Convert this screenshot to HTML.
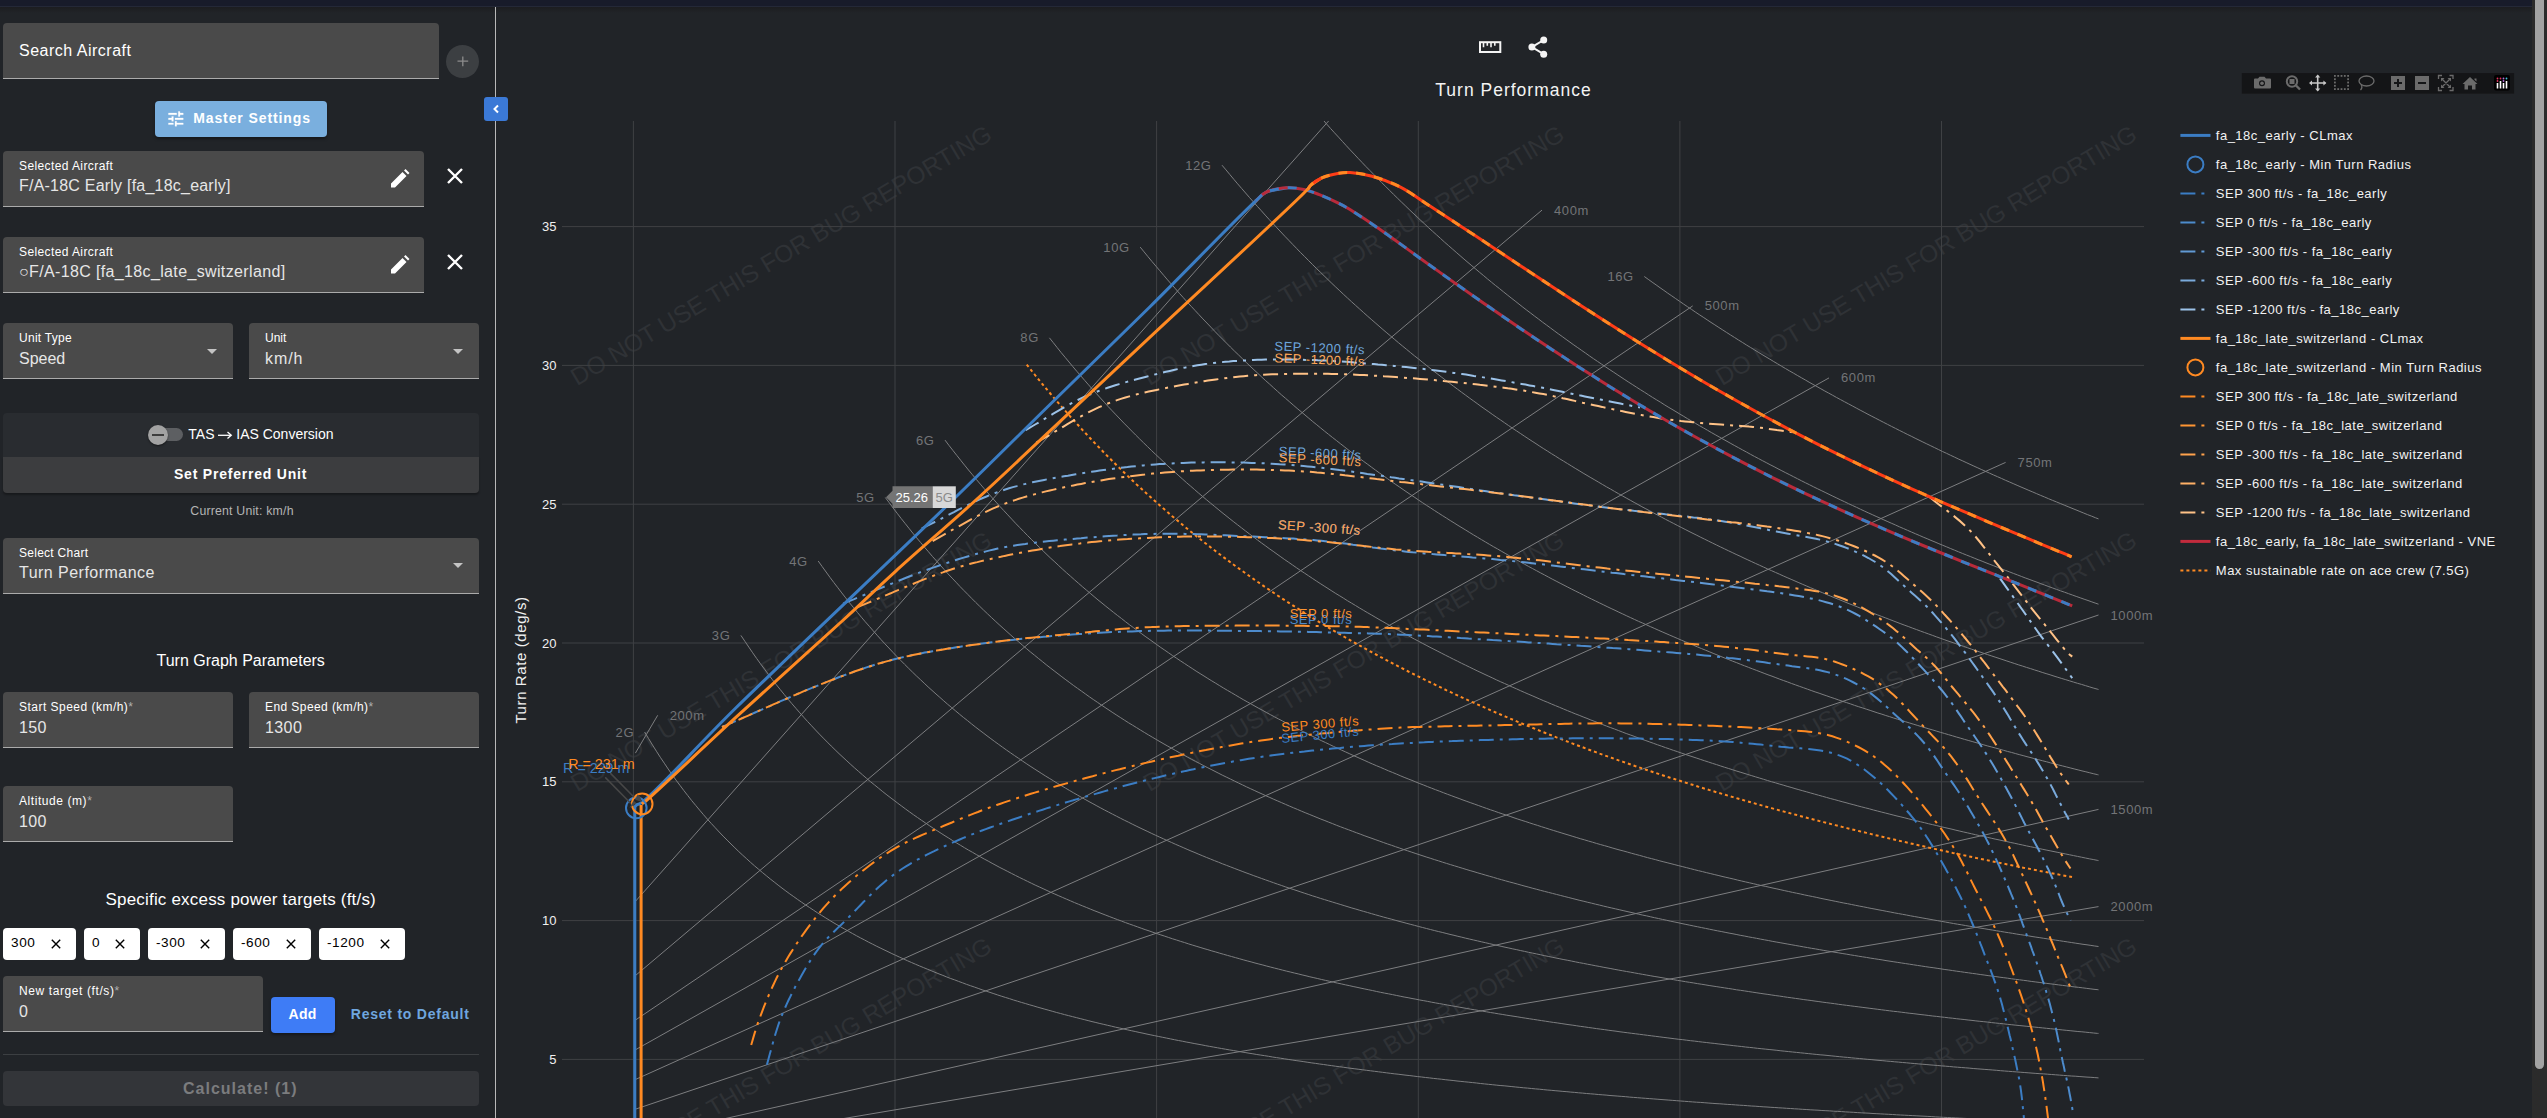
<!DOCTYPE html>
<html><head><meta charset="utf-8"><style>
html,body{margin:0;padding:0;}
body{width:2547px;height:1118px;overflow:hidden;background:#212428;position:relative;font-family:"Liberation Sans",sans-serif;color:#fff;}
.a{position:absolute;}
.fld{position:absolute;background:#4a4a4a;border-radius:4px 4px 0 0;border-bottom:1px solid #ababab;box-sizing:border-box;}
.lab{position:absolute;left:16px;font-size:12px;color:#fff;white-space:nowrap;}
.val{position:absolute;left:16px;font-size:16px;color:#e6e6e6;white-space:nowrap;}
.ast{color:#b0b0b0;}
.caret{position:absolute;width:0;height:0;border-left:5px solid transparent;border-right:5px solid transparent;border-top:5px solid #c4c4c4;}
.chip{position:absolute;top:928px;height:31.6px;background:#fff;border-radius:4px;color:#000;font-size:13.6px;letter-spacing:0.6px;}
.chip span{position:absolute;top:7px;left:8px;white-space:nowrap;}
.chip svg{position:absolute;top:9.5px;}
.xic{position:absolute;}
</style></head>
<body>
<div class="a" style="left:0;top:0;width:2532px;height:6px;background:#181b2a"></div>
<div class="a" style="left:0;top:5.5px;width:2532px;height:1.2px;background:#242837"></div>
<div class="a" style="left:0;top:6.7px;width:2532px;height:6px;background:linear-gradient(#1c1d20,#212428)"></div>
<div class="a" style="left:2532px;top:0;width:15px;height:1118px;background:#2b2b2b"></div>
<div class="a" style="left:2535px;top:0;width:9.2px;height:1069px;background:#a3a3a3;border-radius:0 0 5px 5px"></div>
<div class="a" style="left:494.5px;top:7px;width:1.2px;height:1111px;background:#b8b8b8"></div>
<div class="fld" style="left:3px;top:22.8px;width:436px;height:56px"><div class="val" style="left:16px;top:19.5px;font-size:16px;color:#fff;letter-spacing:0.5px">Search Aircraft</div></div>
<div class="a" style="left:445.7px;top:45px;width:33.2px;height:33.2px;border-radius:50%;background:#3c3f42"></div>
<svg class="a" style="left:456.5px;top:55.8px" width="13" height="13"><path d="M5.8,0.5V10.2M0.5,5.2H11.2" stroke="#8c8c8c" stroke-width="1.3"/></svg>
<div class="a" style="left:154.8px;top:101.2px;width:172px;height:35.6px;background:#7aafde;border-radius:4px;box-shadow:0 2px 3px rgba(0,0,0,0.35)"></div>
<svg class="a" style="left:166.2px;top:109.4px" width="20" height="20"><g transform="scale(0.82)"><path d="M3 17v2h6v-2H3zM3 5v2h10V5H3zm10 16v-2h8v-2h-8v-2h-2v6h2zM7 9v2H3v2h4v2h2V9H7zm14 4v-2H11v2h10zm-6-4h2V7h4V5h-4V3h-2v6z" fill="#fff" stroke="#fff" stroke-width="0.35"/></g></svg>
<div class="a" style="left:193.2px;top:110px;font-size:14px;font-weight:bold;letter-spacing:0.9px;color:#fff;white-space:nowrap">Master Settings</div>
<div class="a" style="left:484.3px;top:97.1px;width:23.6px;height:23.6px;background:#3b79d6;border-radius:3px"></div>
<svg class="a" style="left:490px;top:102px" width="12" height="14"><path d="M8,3.5L4.5,7L8,10.5" stroke="#fff" stroke-width="2" fill="none"/></svg>
<div class="fld" style="left:3px;top:151px;width:421px;height:56px"><div class="lab" style="top:8px;letter-spacing:0.4px">Selected Aircraft</div><div class="val" style="top:26px;font-size:16px;letter-spacing:0.22px">F/A-18C Early [fa_18c_early]</div></div>
<svg class="a" style="left:389px;top:168px" width="22" height="22"><path d="M2,19.5V15.5L13.5,4L17.5,8L6,19.5Z M15,2.5L16.5,1L20.5,5L19,6.5Z" fill="#fff"/></svg>
<svg class="a" style="left:446px;top:167px" width="18" height="18"><path d="M2,2L16,16M16,2L2,16" stroke="#fff" stroke-width="2.4"/></svg>
<div class="fld" style="left:3px;top:237px;width:421px;height:56px"><div class="lab" style="top:8px;letter-spacing:0.4px">Selected Aircraft</div><div class="val" style="top:26px;font-size:16px;letter-spacing:0.36px">&#9675;F/A-18C [fa_18c_late_switzerland]</div></div>
<svg class="a" style="left:389px;top:254px" width="22" height="22"><path d="M2,19.5V15.5L13.5,4L17.5,8L6,19.5Z M15,2.5L16.5,1L20.5,5L19,6.5Z" fill="#fff"/></svg>
<svg class="a" style="left:446px;top:253px" width="18" height="18"><path d="M2,2L16,16M16,2L2,16" stroke="#fff" stroke-width="2.4"/></svg>
<div class="fld" style="left:3px;top:323px;width:230px;height:55.5px"><div class="lab" style="top:8px;letter-spacing:0.27px">Unit Type</div><div class="val" style="top:26.5px">Speed</div><div class="caret" style="left:203.6px;top:25.7px"></div></div>
<div class="fld" style="left:249px;top:323px;width:230px;height:55.5px"><div class="lab" style="top:8px">Unit</div><div class="val" style="top:26.5px;letter-spacing:0.9px">km/h</div><div class="caret" style="left:203.8px;top:25.7px"></div></div>
<div class="a" style="left:3px;top:413px;width:476px;height:44px;background:#292c30;border-radius:4px 4px 0 0"></div>
<div class="a" style="left:148.8px;top:428.2px;width:34.4px;height:12.9px;border-radius:7px;background:#5d5f62"></div>
<div class="a" style="left:147.7px;top:424.5px;width:20px;height:20px;border-radius:50%;background:#a2a2a2;box-shadow:0 1px 2px rgba(0,0,0,0.5)"></div>
<div class="a" style="left:151.5px;top:433.6px;width:12.4px;height:2px;background:#3c3c3c"></div>
<div class="a" style="left:188.3px;top:426px;font-size:14px;color:#fff;white-space:nowrap">TAS <span style="color:transparent">&#8594;</span> IAS Conversion</div>
<svg class="a" style="left:217px;top:430px" width="16" height="10"><path d="M1,5.3H14" stroke="#fff" stroke-width="1.3"/><path d="M10.5,2L14.3,5.3L10.5,8.6" stroke="#fff" stroke-width="1.3" fill="none"/></svg>
<div class="a" style="left:3px;top:457px;width:476px;height:35.6px;background:#3c3d3f;border-radius:0 0 4px 4px;box-shadow:0 2px 2px rgba(0,0,0,0.3)"></div>
<div class="a" style="left:174px;top:466px;font-size:14px;font-weight:bold;letter-spacing:0.78px;color:#fff;white-space:nowrap">Set Preferred Unit</div>
<div class="a" style="left:190.3px;top:503.5px;font-size:12.3px;letter-spacing:0.2px;color:#b4b4b4;white-space:nowrap">Current Unit: km/h</div>
<div class="fld" style="left:3px;top:537.5px;width:476px;height:56px"><div class="lab" style="top:8px;letter-spacing:0.27px">Select Chart</div><div class="val" style="top:26.5px;letter-spacing:0.47px">Turn Performance</div><div class="caret" style="left:449.8px;top:25.8px"></div></div>
<div class="a" style="left:156.5px;top:652px;font-size:16px;color:#fff;white-space:nowrap">Turn Graph Parameters</div>
<div class="fld" style="left:3px;top:692.3px;width:230px;height:55.6px"><div class="lab" style="top:7.5px;letter-spacing:0.48px">Start Speed (km/h)<span class="ast">*</span></div><div class="val" style="top:26.5px;letter-spacing:0.4px">150</div></div>
<div class="fld" style="left:249px;top:692.3px;width:230px;height:55.6px"><div class="lab" style="top:7.5px;letter-spacing:0.42px">End Speed (km/h)<span class="ast">*</span></div><div class="val" style="top:26.5px;letter-spacing:0.4px">1300</div></div>
<div class="fld" style="left:3px;top:786px;width:230px;height:55.8px"><div class="lab" style="top:8px;letter-spacing:0.57px">Altitude (m)<span class="ast">*</span></div><div class="val" style="top:26.5px;letter-spacing:0.4px">100</div></div>
<div class="a" style="left:105.5px;top:889.5px;font-size:17px;letter-spacing:0.19px;color:#fff;white-space:nowrap">Specific excess power targets (ft/s)</div>
<div class="chip" style="left:3px;width:72.9px"><span>300</span><svg style="left:46.900000000000006px" width="12" height="12"><path d="M1.8,1.8L10.2,10.2M10.2,1.8L1.8,10.2" stroke="#000" stroke-width="1.4"/></svg></div>
<div class="chip" style="left:84px;width:55.9px"><span>0</span><svg style="left:29.9px" width="12" height="12"><path d="M1.8,1.8L10.2,10.2M10.2,1.8L1.8,10.2" stroke="#000" stroke-width="1.4"/></svg></div>
<div class="chip" style="left:147.9px;width:77.1px"><span>-300</span><svg style="left:51.099999999999994px" width="12" height="12"><path d="M1.8,1.8L10.2,10.2M10.2,1.8L1.8,10.2" stroke="#000" stroke-width="1.4"/></svg></div>
<div class="chip" style="left:232.9px;width:78px"><span>-600</span><svg style="left:52px" width="12" height="12"><path d="M1.8,1.8L10.2,10.2M10.2,1.8L1.8,10.2" stroke="#000" stroke-width="1.4"/></svg></div>
<div class="chip" style="left:318.9px;width:85.9px"><span>-1200</span><svg style="left:59.900000000000006px" width="12" height="12"><path d="M1.8,1.8L10.2,10.2M10.2,1.8L1.8,10.2" stroke="#000" stroke-width="1.4"/></svg></div>
<div class="fld" style="left:3px;top:976.1px;width:259.6px;height:56px"><div class="lab" style="top:8px;letter-spacing:0.6px">New target (ft/s)<span class="ast">*</span></div><div class="val" style="top:26.5px;letter-spacing:0.4px">0</div></div>
<div class="a" style="left:271.2px;top:997.1px;width:63.4px;height:35.5px;background:#3e7cf6;border-radius:4px;box-shadow:0 2px 3px rgba(0,0,0,0.35)"></div>
<div class="a" style="left:288.5px;top:1006px;font-size:14px;font-weight:bold;letter-spacing:0.3px;color:#fff;white-space:nowrap">Add</div>
<div class="a" style="left:350.8px;top:1006px;font-size:14px;font-weight:bold;letter-spacing:0.77px;color:#6fa6df;white-space:nowrap">Reset to Default</div>
<div class="a" style="left:3px;top:1054px;width:476px;height:1px;background:#3c3f42"></div>
<div class="a" style="left:3px;top:1071.2px;width:476px;height:35.3px;background:#333539;border-radius:4px"></div>
<div class="a" style="left:183px;top:1079.5px;font-size:16px;font-weight:bold;letter-spacing:1px;color:#7b7c7e;white-space:nowrap">Calculate! (1)</div>
<svg width="2532" height="1118" viewBox="0 0 2532 1118" style="position:absolute;left:0;top:0">
<defs><clipPath id="pc"><rect x="562" y="121" width="1582" height="1000"/></clipPath><clipPath id="pc2"><rect x="497" y="121" width="2030" height="1000"/></clipPath></defs>
<g font-family="Liberation Sans, sans-serif" font-size="24.5" fill="#2f3236"><text x="782" y="257" transform="rotate(-30.7 782 257)" text-anchor="middle" dominant-baseline="middle">DO NOT USE THIS FOR BUG REPORTING</text><text x="1354.5" y="257" transform="rotate(-30.7 1354.5 257)" text-anchor="middle" dominant-baseline="middle">DO NOT USE THIS FOR BUG REPORTING</text><text x="1927" y="257" transform="rotate(-30.7 1927 257)" text-anchor="middle" dominant-baseline="middle">DO NOT USE THIS FOR BUG REPORTING</text><text x="782" y="663" transform="rotate(-30.7 782 663)" text-anchor="middle" dominant-baseline="middle">DO NOT USE THIS FOR BUG REPORTING</text><text x="1354.5" y="663" transform="rotate(-30.7 1354.5 663)" text-anchor="middle" dominant-baseline="middle">DO NOT USE THIS FOR BUG REPORTING</text><text x="1927" y="663" transform="rotate(-30.7 1927 663)" text-anchor="middle" dominant-baseline="middle">DO NOT USE THIS FOR BUG REPORTING</text><text x="782" y="1069" transform="rotate(-30.7 782 1069)" text-anchor="middle" dominant-baseline="middle">DO NOT USE THIS FOR BUG REPORTING</text><text x="1354.5" y="1069" transform="rotate(-30.7 1354.5 1069)" text-anchor="middle" dominant-baseline="middle">DO NOT USE THIS FOR BUG REPORTING</text><text x="1927" y="1069" transform="rotate(-30.7 1927 1069)" text-anchor="middle" dominant-baseline="middle">DO NOT USE THIS FOR BUG REPORTING</text></g>
<path d="M633.4,121V1118 M895.0,121V1118 M1156.6,121V1118 M1418.3,121V1118 M1679.9,121V1118 M1941.5,121V1118 M562,1059.4H2144 M562,920.6H2144 M562,781.8H2144 M562,643.0H2144 M562,504.2H2144 M562,365.4H2144 M562,226.6H2144" stroke="#3f4144" stroke-width="1" fill="none"/>
<g font-family="Liberation Sans, sans-serif" font-size="13" fill="#f0f0f0"><text x="556.5" y="1064.0" text-anchor="end">5</text><text x="556.5" y="925.2" text-anchor="end">10</text><text x="556.5" y="786.4" text-anchor="end">15</text><text x="556.5" y="647.6" text-anchor="end">20</text><text x="556.5" y="508.8" text-anchor="end">25</text><text x="556.5" y="370.0" text-anchor="end">30</text><text x="556.5" y="231.2" text-anchor="end">35</text></g>
<text x="526" y="660" transform="rotate(-90 526 660)" text-anchor="middle" font-family="Liberation Sans, sans-serif" font-size="15" letter-spacing="0.6" fill="#f0f0f0">Turn Rate (deg/s)</text>
<g clip-path="url(#pc)"><path d="M644.6,732.0 L648.6,738.6 L652.5,745.0 L656.4,751.2 L660.3,757.3 L664.3,763.2 L668.2,769.0 L672.1,774.6 L676.0,780.1 L680.0,785.4 L683.9,790.6 L687.8,795.6 L691.7,800.6 L695.7,805.4 L699.6,810.1 L703.5,814.7 L707.4,819.2 L711.4,823.6 L715.3,827.8 L719.2,832.0 L723.1,836.1 L727.1,840.1 L731.0,844.0 L734.9,847.8 L738.8,851.6 L742.8,855.3 L746.7,858.8 L750.6,862.4 L754.5,865.8 L758.5,869.2 L762.4,872.5 L766.3,875.7 L770.2,878.9 L774.2,882.0 L778.1,885.1 L782.0,888.1 L785.9,891.0 L789.8,893.9 L793.8,896.7 L797.7,899.5 L801.6,902.2 L805.5,904.9 L809.5,907.5 L813.4,910.1 L817.3,912.7 L821.2,915.1 L825.2,917.6 L829.1,920.0 L833.0,922.4 L836.9,924.7 L840.9,927.0 L844.8,929.2 L848.7,931.4 L852.6,933.6 L856.6,935.8 L860.5,937.9 L864.4,939.9 L868.3,942.0 L872.3,944.0 L876.2,946.0 L880.1,947.9 L884.0,949.8 L888.0,951.7 L891.9,953.6 L895.8,955.4 L899.7,957.2 L903.7,959.0 L907.6,960.8 L911.5,962.5 L915.4,964.2 L919.4,965.9 L923.3,967.5 L927.2,969.1 L931.1,970.7 L935.0,972.3 L939.0,973.9 L942.9,975.4 L946.8,977.0 L950.7,978.5 L954.7,979.9 L958.6,981.4 L962.5,982.8 L966.4,984.3 L970.4,985.7 L974.3,987.0 L978.2,988.4 L982.1,989.8 L986.1,991.1 L990.0,992.4 L993.9,993.7 L997.8,995.0 L1001.8,996.3 L1005.7,997.5 L1009.6,998.7 L1013.5,1000.0 L1017.5,1001.2 L1021.4,1002.4 L1025.3,1003.5 L1029.2,1004.7 L1033.2,1005.8 L1037.1,1007.0 L1041.0,1008.1 L1044.9,1009.2 L1048.9,1010.3 L1052.8,1011.4 L1056.7,1012.5 L1060.6,1013.5 L1064.5,1014.6 L1068.5,1015.6 L1072.4,1016.6 L1076.3,1017.6 L1080.2,1018.6 L1084.2,1019.6 L1088.1,1020.6 L1092.0,1021.6 L1095.9,1022.5 L1099.9,1023.5 L1103.8,1024.4 L1107.7,1025.3 L1111.6,1026.2 L1115.6,1027.2 L1119.5,1028.0 L1123.4,1028.9 L1127.3,1029.8 L1131.3,1030.7 L1135.2,1031.5 L1139.1,1032.4 L1143.0,1033.2 L1147.0,1034.1 L1150.9,1034.9 L1154.8,1035.7 L1158.7,1036.5 L1162.7,1037.3 L1166.6,1038.1 L1170.5,1038.9 L1174.4,1039.7 L1178.4,1040.5 L1182.3,1041.2 L1186.2,1042.0 L1190.1,1042.7 L1194.1,1043.5 L1198.0,1044.2 L1201.9,1044.9 L1205.8,1045.7 L1209.7,1046.4 L1213.7,1047.1 L1217.6,1047.8 L1221.5,1048.5 L1225.4,1049.2 L1229.4,1049.9 L1233.3,1050.5 L1237.2,1051.2 L1241.1,1051.9 L1245.1,1052.5 L1249.0,1053.2 L1252.9,1053.8 L1256.8,1054.5 L1260.8,1055.1 L1264.7,1055.7 L1268.6,1056.3 L1272.5,1057.0 L1276.5,1057.6 L1280.4,1058.2 L1284.3,1058.8 L1288.2,1059.4 L1292.2,1060.0 L1296.1,1060.6 L1300.0,1061.1 L1303.9,1061.7 L1307.9,1062.3 L1311.8,1062.9 L1315.7,1063.4 L1319.6,1064.0 L1323.6,1064.5 L1327.5,1065.1 L1331.4,1065.6 L1335.3,1066.2 L1339.3,1066.7 L1343.2,1067.2 L1347.1,1067.8 L1351.0,1068.3 L1354.9,1068.8 L1358.9,1069.3 L1362.8,1069.8 L1366.7,1070.3 L1370.6,1070.8 L1374.6,1071.3 L1378.5,1071.8 L1382.4,1072.3 L1386.3,1072.8 L1390.3,1073.3 L1394.2,1073.8 L1398.1,1074.2 L1402.0,1074.7 L1406.0,1075.2 L1409.9,1075.6 L1413.8,1076.1 L1417.7,1076.6 L1421.7,1077.0 L1425.6,1077.5 L1429.5,1077.9 L1433.4,1078.4 L1437.4,1078.8 L1441.3,1079.2 L1445.2,1079.7 L1449.1,1080.1 L1453.1,1080.5 L1457.0,1081.0 L1460.9,1081.4 L1464.8,1081.8 L1468.8,1082.2 L1472.7,1082.6 L1476.6,1083.0 L1480.5,1083.5 L1484.4,1083.9 L1488.4,1084.3 L1492.3,1084.7 L1496.2,1085.1 L1500.1,1085.5 L1504.1,1085.8 L1508.0,1086.2 L1511.9,1086.6 L1515.8,1087.0 L1519.8,1087.4 L1523.7,1087.8 L1527.6,1088.1 L1531.5,1088.5 L1535.5,1088.9 L1539.4,1089.2 L1543.3,1089.6 L1547.2,1090.0 L1551.2,1090.3 L1555.1,1090.7 L1559.0,1091.0 L1562.9,1091.4 L1566.9,1091.7 L1570.8,1092.1 L1574.7,1092.4 L1578.6,1092.8 L1582.6,1093.1 L1586.5,1093.5 L1590.4,1093.8 L1594.3,1094.1 L1598.3,1094.5 L1602.2,1094.8 L1606.1,1095.1 L1610.0,1095.5 L1614.0,1095.8 L1617.9,1096.1 L1621.8,1096.4 L1625.7,1096.7 L1629.6,1097.1 L1633.6,1097.4 L1637.5,1097.7 L1641.4,1098.0 L1645.3,1098.3 L1649.3,1098.6 L1653.2,1098.9 L1657.1,1099.2 L1661.0,1099.5 L1665.0,1099.8 L1668.9,1100.1 L1672.8,1100.4 L1676.7,1100.7 L1680.7,1101.0 L1684.6,1101.3 L1688.5,1101.6 L1692.4,1101.9 L1696.4,1102.2 L1700.3,1102.4 L1704.2,1102.7 L1708.1,1103.0 L1712.1,1103.3 L1716.0,1103.6 L1719.9,1103.8 L1723.8,1104.1 L1727.8,1104.4 L1731.7,1104.6 L1735.6,1104.9 L1739.5,1105.2 L1743.5,1105.4 L1747.4,1105.7 L1751.3,1106.0 L1755.2,1106.2 L1759.2,1106.5 L1763.1,1106.8 L1767.0,1107.0 L1770.9,1107.3 L1774.8,1107.5 L1778.8,1107.8 L1782.7,1108.0 L1786.6,1108.3 L1790.5,1108.5 L1794.5,1108.8 L1798.4,1109.0 L1802.3,1109.3 L1806.2,1109.5 L1810.2,1109.8 L1814.1,1110.0 L1818.0,1110.2 L1821.9,1110.5 L1825.9,1110.7 L1829.8,1110.9 L1833.7,1111.2 L1837.6,1111.4 L1841.6,1111.6 L1845.5,1111.9 L1849.4,1112.1 L1853.3,1112.3 L1857.3,1112.6 L1861.2,1112.8 L1865.1,1113.0 L1869.0,1113.2 L1873.0,1113.5 L1876.9,1113.7 L1880.8,1113.9 L1884.7,1114.1 L1888.7,1114.3 L1892.6,1114.5 L1896.5,1114.8 L1900.4,1115.0 L1904.3,1115.2 L1908.3,1115.4 L1912.2,1115.6 L1916.1,1115.8 L1920.0,1116.0 L1924.0,1116.2 L1927.9,1116.4 L1931.8,1116.6 L1935.7,1116.9 L1939.7,1117.1 L1943.6,1117.3 L1947.5,1117.5 L1951.4,1117.7 L1955.4,1117.9 L1959.3,1118.1 L1963.2,1118.3 L1967.1,1118.5 L1971.1,1118.6 L1975.0,1118.8 L1978.9,1119.0 L1982.8,1119.2 L1986.8,1119.4 L1990.7,1119.6 L1994.6,1119.8 L1998.5,1120.0 L2002.5,1120.2 L2006.4,1120.4 L2010.3,1120.6 L2014.2,1120.7 L2018.2,1120.9 L2022.1,1121.1 L2026.0,1121.3 L2029.9,1121.5 L2033.9,1121.7 L2037.8,1121.8 L2041.7,1122.0 L2045.6,1122.2 L2049.5,1122.4 L2053.5,1122.5 L2057.4,1122.7 L2061.3,1122.9 L2065.2,1123.1 L2069.2,1123.2 L2073.1,1123.4 L2077.0,1123.6 L2080.9,1123.8 L2084.9,1123.9 L2088.8,1124.1 L2092.7,1124.3 L2096.6,1124.4 L2098.5,1124.5 M740.9,635.4 L744.9,641.3 L748.8,647.1 L752.7,652.8 L756.6,658.4 L760.5,663.8 L764.5,669.1 L768.4,674.4 L772.3,679.5 L776.2,684.5 L780.2,689.5 L784.1,694.3 L788.0,699.1 L791.9,703.7 L795.9,708.3 L799.8,712.8 L803.7,717.2 L807.6,721.5 L811.6,725.8 L815.5,730.0 L819.4,734.1 L823.3,738.1 L827.3,742.1 L831.2,746.0 L835.1,749.8 L839.0,753.6 L843.0,757.3 L846.9,760.9 L850.8,764.5 L854.7,768.0 L858.7,771.5 L862.6,774.9 L866.5,778.3 L870.4,781.6 L874.4,784.8 L878.3,788.0 L882.2,791.2 L886.1,794.3 L890.0,797.3 L894.0,800.3 L897.9,803.3 L901.8,806.2 L905.7,809.1 L909.7,812.0 L913.6,814.8 L917.5,817.5 L921.4,820.2 L925.4,822.9 L929.3,825.6 L933.2,828.2 L937.1,830.7 L941.1,833.3 L945.0,835.8 L948.9,838.2 L952.8,840.7 L956.8,843.1 L960.7,845.4 L964.6,847.8 L968.5,850.1 L972.5,852.3 L976.4,854.6 L980.3,856.8 L984.2,859.0 L988.2,861.1 L992.1,863.3 L996.0,865.4 L999.9,867.5 L1003.9,869.5 L1007.8,871.5 L1011.7,873.5 L1015.6,875.5 L1019.6,877.5 L1023.5,879.4 L1027.4,881.3 L1031.3,883.2 L1035.2,885.1 L1039.2,886.9 L1043.1,888.7 L1047.0,890.5 L1050.9,892.3 L1054.9,894.1 L1058.8,895.8 L1062.7,897.5 L1066.6,899.2 L1070.6,900.9 L1074.5,902.6 L1078.4,904.2 L1082.3,905.8 L1086.3,907.4 L1090.2,909.0 L1094.1,910.6 L1098.0,912.1 L1102.0,913.7 L1105.9,915.2 L1109.8,916.7 L1113.7,918.2 L1117.7,919.7 L1121.6,921.1 L1125.5,922.6 L1129.4,924.0 L1133.4,925.4 L1137.3,926.8 L1141.2,928.2 L1145.1,929.6 L1149.1,930.9 L1153.0,932.3 L1156.9,933.6 L1160.8,934.9 L1164.8,936.2 L1168.7,937.5 L1172.6,938.8 L1176.5,940.0 L1180.4,941.3 L1184.4,942.5 L1188.3,943.8 L1192.2,945.0 L1196.1,946.2 L1200.1,947.4 L1204.0,948.6 L1207.9,949.7 L1211.8,950.9 L1215.8,952.0 L1219.7,953.2 L1223.6,954.3 L1227.5,955.4 L1231.5,956.5 L1235.4,957.6 L1239.3,958.7 L1243.2,959.8 L1247.2,960.9 L1251.1,961.9 L1255.0,963.0 L1258.9,964.0 L1262.9,965.0 L1266.8,966.1 L1270.7,967.1 L1274.6,968.1 L1278.6,969.1 L1282.5,970.1 L1286.4,971.1 L1290.3,972.0 L1294.3,973.0 L1298.2,973.9 L1302.1,974.9 L1306.0,975.8 L1309.9,976.8 L1313.9,977.7 L1317.8,978.6 L1321.7,979.5 L1325.6,980.4 L1329.6,981.3 L1333.5,982.2 L1337.4,983.1 L1341.3,983.9 L1345.3,984.8 L1349.2,985.6 L1353.1,986.5 L1357.0,987.3 L1361.0,988.2 L1364.9,989.0 L1368.8,989.8 L1372.7,990.6 L1376.7,991.5 L1380.6,992.3 L1384.5,993.1 L1388.4,993.8 L1392.4,994.6 L1396.3,995.4 L1400.2,996.2 L1404.1,997.0 L1408.1,997.7 L1412.0,998.5 L1415.9,999.2 L1419.8,1000.0 L1423.8,1000.7 L1427.7,1001.4 L1431.6,1002.2 L1435.5,1002.9 L1439.5,1003.6 L1443.4,1004.3 L1447.3,1005.0 L1451.2,1005.7 L1455.1,1006.4 L1459.1,1007.1 L1463.0,1007.8 L1466.9,1008.5 L1470.8,1009.2 L1474.8,1009.8 L1478.7,1010.5 L1482.6,1011.2 L1486.5,1011.8 L1490.5,1012.5 L1494.4,1013.1 L1498.3,1013.8 L1502.2,1014.4 L1506.2,1015.1 L1510.1,1015.7 L1514.0,1016.3 L1517.9,1016.9 L1521.9,1017.6 L1525.8,1018.2 L1529.7,1018.8 L1533.6,1019.4 L1537.6,1020.0 L1541.5,1020.6 L1545.4,1021.2 L1549.3,1021.8 L1553.3,1022.4 L1557.2,1022.9 L1561.1,1023.5 L1565.0,1024.1 L1569.0,1024.7 L1572.9,1025.2 L1576.8,1025.8 L1580.7,1026.4 L1584.7,1026.9 L1588.6,1027.5 L1592.5,1028.0 L1596.4,1028.6 L1600.3,1029.1 L1604.3,1029.6 L1608.2,1030.2 L1612.1,1030.7 L1616.0,1031.2 L1620.0,1031.8 L1623.9,1032.3 L1627.8,1032.8 L1631.7,1033.3 L1635.7,1033.8 L1639.6,1034.3 L1643.5,1034.8 L1647.4,1035.3 L1651.4,1035.8 L1655.3,1036.3 L1659.2,1036.8 L1663.1,1037.3 L1667.1,1037.8 L1671.0,1038.3 L1674.9,1038.8 L1678.8,1039.3 L1682.8,1039.7 L1686.7,1040.2 L1690.6,1040.7 L1694.5,1041.1 L1698.5,1041.6 L1702.4,1042.1 L1706.3,1042.5 L1710.2,1043.0 L1714.2,1043.4 L1718.1,1043.9 L1722.0,1044.3 L1725.9,1044.8 L1729.8,1045.2 L1733.8,1045.7 L1737.7,1046.1 L1741.6,1046.5 L1745.5,1047.0 L1749.5,1047.4 L1753.4,1047.8 L1757.3,1048.3 L1761.2,1048.7 L1765.2,1049.1 L1769.1,1049.5 L1773.0,1049.9 L1776.9,1050.3 L1780.9,1050.8 L1784.8,1051.2 L1788.7,1051.6 L1792.6,1052.0 L1796.6,1052.4 L1800.5,1052.8 L1804.4,1053.2 L1808.3,1053.6 L1812.3,1054.0 L1816.2,1054.4 L1820.1,1054.8 L1824.0,1055.1 L1828.0,1055.5 L1831.9,1055.9 L1835.8,1056.3 L1839.7,1056.7 L1843.7,1057.1 L1847.6,1057.4 L1851.5,1057.8 L1855.4,1058.2 L1859.4,1058.5 L1863.3,1058.9 L1867.2,1059.3 L1871.1,1059.6 L1875.0,1060.0 L1879.0,1060.4 L1882.9,1060.7 L1886.8,1061.1 L1890.7,1061.4 L1894.7,1061.8 L1898.6,1062.1 L1902.5,1062.5 L1906.4,1062.8 L1910.4,1063.2 L1914.3,1063.5 L1918.2,1063.9 L1922.1,1064.2 L1926.1,1064.5 L1930.0,1064.9 L1933.9,1065.2 L1937.8,1065.5 L1941.8,1065.9 L1945.7,1066.2 L1949.6,1066.5 L1953.5,1066.9 L1957.5,1067.2 L1961.4,1067.5 L1965.3,1067.8 L1969.2,1068.1 L1973.2,1068.5 L1977.1,1068.8 L1981.0,1069.1 L1984.9,1069.4 L1988.9,1069.7 L1992.8,1070.0 L1996.7,1070.3 L2000.6,1070.7 L2004.6,1071.0 L2008.5,1071.3 L2012.4,1071.6 L2016.3,1071.9 L2020.2,1072.2 L2024.2,1072.5 L2028.1,1072.8 L2032.0,1073.1 L2035.9,1073.4 L2039.9,1073.7 L2043.8,1073.9 L2047.7,1074.2 L2051.6,1074.5 L2055.6,1074.8 L2059.5,1075.1 L2063.4,1075.4 L2067.3,1075.7 L2071.3,1076.0 L2075.2,1076.2 L2079.1,1076.5 L2083.0,1076.8 L2087.0,1077.1 L2090.9,1077.3 L2094.8,1077.6 L2098.5,1077.9 M818.2,561.0 L822.2,566.6 L826.1,572.0 L830.0,577.4 L833.9,582.6 L837.9,587.8 L841.8,592.9 L845.7,597.9 L849.6,602.9 L853.6,607.7 L857.5,612.5 L861.4,617.2 L865.3,621.8 L869.3,626.3 L873.2,630.8 L877.1,635.2 L881.0,639.6 L884.9,643.8 L888.9,648.0 L892.8,652.2 L896.7,656.3 L900.6,660.3 L904.6,664.3 L908.5,668.2 L912.4,672.0 L916.3,675.8 L920.3,679.5 L924.2,683.2 L928.1,686.9 L932.0,690.4 L936.0,694.0 L939.9,697.4 L943.8,700.9 L947.7,704.3 L951.7,707.6 L955.6,710.9 L959.5,714.2 L963.4,717.4 L967.4,720.5 L971.3,723.7 L975.2,726.8 L979.1,729.8 L983.1,732.8 L987.0,735.8 L990.9,738.7 L994.8,741.6 L998.8,744.5 L1002.7,747.3 L1006.6,750.1 L1010.5,752.8 L1014.4,755.5 L1018.4,758.2 L1022.3,760.9 L1026.2,763.5 L1030.1,766.1 L1034.1,768.7 L1038.0,771.2 L1041.9,773.7 L1045.8,776.2 L1049.8,778.6 L1053.7,781.0 L1057.6,783.4 L1061.5,785.8 L1065.5,788.1 L1069.4,790.4 L1073.3,792.7 L1077.2,794.9 L1081.2,797.2 L1085.1,799.4 L1089.0,801.6 L1092.9,803.7 L1096.9,805.9 L1100.8,808.0 L1104.7,810.1 L1108.6,812.1 L1112.6,814.2 L1116.5,816.2 L1120.4,818.2 L1124.3,820.2 L1128.3,822.1 L1132.2,824.1 L1136.1,826.0 L1140.0,827.9 L1144.0,829.8 L1147.9,831.6 L1151.8,833.5 L1155.7,835.3 L1159.6,837.1 L1163.6,838.9 L1167.5,840.7 L1171.4,842.4 L1175.3,844.2 L1179.3,845.9 L1183.2,847.6 L1187.1,849.3 L1191.0,851.0 L1195.0,852.6 L1198.9,854.3 L1202.8,855.9 L1206.7,857.5 L1210.7,859.1 L1214.6,860.7 L1218.5,862.2 L1222.4,863.8 L1226.4,865.3 L1230.3,866.8 L1234.2,868.3 L1238.1,869.8 L1242.1,871.3 L1246.0,872.8 L1249.9,874.2 L1253.8,875.7 L1257.8,877.1 L1261.7,878.5 L1265.6,879.9 L1269.5,881.3 L1273.5,882.7 L1277.4,884.1 L1281.3,885.4 L1285.2,886.8 L1289.2,888.1 L1293.1,889.4 L1297.0,890.7 L1300.9,892.0 L1304.8,893.3 L1308.8,894.6 L1312.7,895.9 L1316.6,897.1 L1320.5,898.4 L1324.5,899.6 L1328.4,900.8 L1332.3,902.0 L1336.2,903.2 L1340.2,904.4 L1344.1,905.6 L1348.0,906.8 L1351.9,908.0 L1355.9,909.1 L1359.8,910.3 L1363.7,911.4 L1367.6,912.5 L1371.6,913.7 L1375.5,914.8 L1379.4,915.9 L1383.3,917.0 L1387.3,918.1 L1391.2,919.1 L1395.1,920.2 L1399.0,921.3 L1403.0,922.3 L1406.9,923.4 L1410.8,924.4 L1414.7,925.4 L1418.7,926.5 L1422.6,927.5 L1426.5,928.5 L1430.4,929.5 L1434.3,930.5 L1438.3,931.5 L1442.2,932.4 L1446.1,933.4 L1450.0,934.4 L1454.0,935.3 L1457.9,936.3 L1461.8,937.2 L1465.7,938.2 L1469.7,939.1 L1473.6,940.0 L1477.5,940.9 L1481.4,941.8 L1485.4,942.7 L1489.3,943.6 L1493.2,944.5 L1497.1,945.4 L1501.1,946.3 L1505.0,947.2 L1508.9,948.0 L1512.8,948.9 L1516.8,949.7 L1520.7,950.6 L1524.6,951.4 L1528.5,952.3 L1532.5,953.1 L1536.4,953.9 L1540.3,954.7 L1544.2,955.6 L1548.2,956.4 L1552.1,957.2 L1556.0,958.0 L1559.9,958.8 L1563.9,959.6 L1567.8,960.3 L1571.7,961.1 L1575.6,961.9 L1579.5,962.7 L1583.5,963.4 L1587.4,964.2 L1591.3,964.9 L1595.2,965.7 L1599.2,966.4 L1603.1,967.2 L1607.0,967.9 L1610.9,968.6 L1614.9,969.4 L1618.8,970.1 L1622.7,970.8 L1626.6,971.5 L1630.6,972.2 L1634.5,972.9 L1638.4,973.6 L1642.3,974.3 L1646.3,975.0 L1650.2,975.7 L1654.1,976.4 L1658.0,977.0 L1662.0,977.7 L1665.9,978.4 L1669.8,979.0 L1673.7,979.7 L1677.7,980.4 L1681.6,981.0 L1685.5,981.7 L1689.4,982.3 L1693.4,982.9 L1697.3,983.6 L1701.2,984.2 L1705.1,984.8 L1709.1,985.5 L1713.0,986.1 L1716.9,986.7 L1720.8,987.3 L1724.7,987.9 L1728.7,988.5 L1732.6,989.1 L1736.5,989.8 L1740.4,990.3 L1744.4,990.9 L1748.3,991.5 L1752.2,992.1 L1756.1,992.7 L1760.1,993.3 L1764.0,993.9 L1767.9,994.4 L1771.8,995.0 L1775.8,995.6 L1779.7,996.1 L1783.6,996.7 L1787.5,997.3 L1791.5,997.8 L1795.4,998.4 L1799.3,998.9 L1803.2,999.5 L1807.2,1000.0 L1811.1,1000.5 L1815.0,1001.1 L1818.9,1001.6 L1822.9,1002.2 L1826.8,1002.7 L1830.7,1003.2 L1834.6,1003.7 L1838.6,1004.3 L1842.5,1004.8 L1846.4,1005.3 L1850.3,1005.8 L1854.2,1006.3 L1858.2,1006.8 L1862.1,1007.3 L1866.0,1007.8 L1869.9,1008.3 L1873.9,1008.8 L1877.8,1009.3 L1881.7,1009.8 L1885.6,1010.3 L1889.6,1010.8 L1893.5,1011.3 L1897.4,1011.7 L1901.3,1012.2 L1905.3,1012.7 L1909.2,1013.2 L1913.1,1013.6 L1917.0,1014.1 L1921.0,1014.6 L1924.9,1015.0 L1928.8,1015.5 L1932.7,1016.0 L1936.7,1016.4 L1940.6,1016.9 L1944.5,1017.3 L1948.4,1017.8 L1952.4,1018.2 L1956.3,1018.7 L1960.2,1019.1 L1964.1,1019.5 L1968.1,1020.0 L1972.0,1020.4 L1975.9,1020.9 L1979.8,1021.3 L1983.8,1021.7 L1987.7,1022.1 L1991.6,1022.6 L1995.5,1023.0 L1999.4,1023.4 L2003.4,1023.8 L2007.3,1024.3 L2011.2,1024.7 L2015.1,1025.1 L2019.1,1025.5 L2023.0,1025.9 L2026.9,1026.3 L2030.8,1026.7 L2034.8,1027.1 L2038.7,1027.5 L2042.6,1027.9 L2046.5,1028.3 L2050.5,1028.7 L2054.4,1029.1 L2058.3,1029.5 L2062.2,1029.9 L2066.2,1030.3 L2070.1,1030.7 L2074.0,1031.1 L2077.9,1031.5 L2081.9,1031.8 L2085.8,1032.2 L2089.7,1032.6 L2093.6,1033.0 L2097.6,1033.4 L2098.5,1033.4 M885.3,497.5 L889.3,502.8 L893.2,508.1 L897.1,513.2 L901.0,518.3 L905.0,523.3 L908.9,528.2 L912.8,533.1 L916.7,537.9 L920.7,542.6 L924.6,547.3 L928.5,551.8 L932.4,556.4 L936.4,560.8 L940.3,565.2 L944.2,569.6 L948.1,573.9 L952.1,578.1 L956.0,582.2 L959.9,586.4 L963.8,590.4 L967.8,594.4 L971.7,598.4 L975.6,602.3 L979.5,606.1 L983.4,609.9 L987.4,613.7 L991.3,617.4 L995.2,621.0 L999.1,624.6 L1003.1,628.2 L1007.0,631.7 L1010.9,635.2 L1014.8,638.6 L1018.8,642.0 L1022.7,645.4 L1026.6,648.7 L1030.5,652.0 L1034.5,655.2 L1038.4,658.4 L1042.3,661.5 L1046.2,664.7 L1050.2,667.8 L1054.1,670.8 L1058.0,673.8 L1061.9,676.8 L1065.9,679.8 L1069.8,682.7 L1073.7,685.6 L1077.6,688.4 L1081.6,691.2 L1085.5,694.0 L1089.4,696.8 L1093.3,699.5 L1097.3,702.2 L1101.2,704.9 L1105.1,707.5 L1109.0,710.1 L1112.9,712.7 L1116.9,715.3 L1120.8,717.8 L1124.7,720.3 L1128.6,722.8 L1132.6,725.2 L1136.5,727.6 L1140.4,730.0 L1144.3,732.4 L1148.3,734.8 L1152.2,737.1 L1156.1,739.4 L1160.0,741.7 L1164.0,744.0 L1167.9,746.2 L1171.8,748.4 L1175.7,750.6 L1179.7,752.8 L1183.6,754.9 L1187.5,757.1 L1191.4,759.2 L1195.4,761.3 L1199.3,763.3 L1203.2,765.4 L1207.1,767.4 L1211.1,769.4 L1215.0,771.4 L1218.9,773.4 L1222.8,775.4 L1226.8,777.3 L1230.7,779.2 L1234.6,781.1 L1238.5,783.0 L1242.5,784.9 L1246.4,786.8 L1250.3,788.6 L1254.2,790.4 L1258.1,792.2 L1262.1,794.0 L1266.0,795.8 L1269.9,797.5 L1273.8,799.3 L1277.8,801.0 L1281.7,802.7 L1285.6,804.4 L1289.5,806.1 L1293.5,807.8 L1297.4,809.4 L1301.3,811.1 L1305.2,812.7 L1309.2,814.3 L1313.1,815.9 L1317.0,817.5 L1320.9,819.1 L1324.9,820.6 L1328.8,822.2 L1332.7,823.7 L1336.6,825.3 L1340.6,826.8 L1344.5,828.3 L1348.4,829.7 L1352.3,831.2 L1356.3,832.7 L1360.2,834.1 L1364.1,835.6 L1368.0,837.0 L1372.0,838.4 L1375.9,839.8 L1379.8,841.2 L1383.7,842.6 L1387.7,844.0 L1391.6,845.3 L1395.5,846.7 L1399.4,848.0 L1403.3,849.4 L1407.3,850.7 L1411.2,852.0 L1415.1,853.3 L1419.0,854.6 L1423.0,855.9 L1426.9,857.2 L1430.8,858.4 L1434.7,859.7 L1438.7,860.9 L1442.6,862.2 L1446.5,863.4 L1450.4,864.6 L1454.4,865.8 L1458.3,867.0 L1462.2,868.2 L1466.1,869.4 L1470.1,870.6 L1474.0,871.7 L1477.9,872.9 L1481.8,874.0 L1485.8,875.2 L1489.7,876.3 L1493.6,877.4 L1497.5,878.6 L1501.5,879.7 L1505.4,880.8 L1509.3,881.9 L1513.2,882.9 L1517.2,884.0 L1521.1,885.1 L1525.0,886.2 L1528.9,887.2 L1532.8,888.3 L1536.8,889.3 L1540.7,890.4 L1544.6,891.4 L1548.5,892.4 L1552.5,893.4 L1556.4,894.4 L1560.3,895.4 L1564.2,896.4 L1568.2,897.4 L1572.1,898.4 L1576.0,899.4 L1579.9,900.4 L1583.9,901.3 L1587.8,902.3 L1591.7,903.2 L1595.6,904.2 L1599.6,905.1 L1603.5,906.1 L1607.4,907.0 L1611.3,907.9 L1615.3,908.8 L1619.2,909.7 L1623.1,910.6 L1627.0,911.5 L1631.0,912.4 L1634.9,913.3 L1638.8,914.2 L1642.7,915.1 L1646.7,915.9 L1650.6,916.8 L1654.5,917.7 L1658.4,918.5 L1662.4,919.4 L1666.3,920.2 L1670.2,921.1 L1674.1,921.9 L1678.0,922.7 L1682.0,923.6 L1685.9,924.4 L1689.8,925.2 L1693.7,926.0 L1697.7,926.8 L1701.6,927.6 L1705.5,928.4 L1709.4,929.2 L1713.4,930.0 L1717.3,930.8 L1721.2,931.5 L1725.1,932.3 L1729.1,933.1 L1733.0,933.8 L1736.9,934.6 L1740.8,935.4 L1744.8,936.1 L1748.7,936.9 L1752.6,937.6 L1756.5,938.3 L1760.5,939.1 L1764.4,939.8 L1768.3,940.5 L1772.2,941.3 L1776.2,942.0 L1780.1,942.7 L1784.0,943.4 L1787.9,944.1 L1791.9,944.8 L1795.8,945.5 L1799.7,946.2 L1803.6,946.9 L1807.6,947.6 L1811.5,948.3 L1815.4,948.9 L1819.3,949.6 L1823.2,950.3 L1827.2,951.0 L1831.1,951.6 L1835.0,952.3 L1838.9,952.9 L1842.9,953.6 L1846.8,954.2 L1850.7,954.9 L1854.6,955.5 L1858.6,956.2 L1862.5,956.8 L1866.4,957.4 L1870.3,958.1 L1874.3,958.7 L1878.2,959.3 L1882.1,959.9 L1886.0,960.6 L1890.0,961.2 L1893.9,961.8 L1897.8,962.4 L1901.7,963.0 L1905.7,963.6 L1909.6,964.2 L1913.5,964.8 L1917.4,965.4 L1921.4,966.0 L1925.3,966.6 L1929.2,967.2 L1933.1,967.7 L1937.1,968.3 L1941.0,968.9 L1944.9,969.5 L1948.8,970.0 L1952.7,970.6 L1956.7,971.2 L1960.6,971.7 L1964.5,972.3 L1968.4,972.8 L1972.4,973.4 L1976.3,973.9 L1980.2,974.5 L1984.1,975.0 L1988.1,975.6 L1992.0,976.1 L1995.9,976.6 L1999.8,977.2 L2003.8,977.7 L2007.7,978.2 L2011.6,978.8 L2015.5,979.3 L2019.5,979.8 L2023.4,980.3 L2027.3,980.8 L2031.2,981.4 L2035.2,981.9 L2039.1,982.4 L2043.0,982.9 L2046.9,983.4 L2050.9,983.9 L2054.8,984.4 L2058.7,984.9 L2062.6,985.4 L2066.6,985.9 L2070.5,986.4 L2074.4,986.9 L2078.3,987.3 L2082.3,987.8 L2086.2,988.3 L2090.1,988.8 L2094.0,989.3 L2097.9,989.7 L2098.5,989.8 M945.0,440.1 L948.9,445.3 L952.8,450.3 L956.8,455.4 L960.7,460.3 L964.6,465.2 L968.5,470.0 L972.5,474.8 L976.4,479.5 L980.3,484.1 L984.2,488.7 L988.2,493.2 L992.1,497.7 L996.0,502.1 L999.9,506.4 L1003.9,510.7 L1007.8,514.9 L1011.7,519.1 L1015.6,523.3 L1019.6,527.4 L1023.5,531.4 L1027.4,535.4 L1031.3,539.3 L1035.2,543.2 L1039.2,547.1 L1043.1,550.9 L1047.0,554.7 L1050.9,558.4 L1054.9,562.0 L1058.8,565.7 L1062.7,569.3 L1066.6,572.8 L1070.6,576.3 L1074.5,579.8 L1078.4,583.2 L1082.3,586.6 L1086.3,590.0 L1090.2,593.3 L1094.1,596.6 L1098.0,599.9 L1102.0,603.1 L1105.9,606.3 L1109.8,609.4 L1113.7,612.5 L1117.7,615.6 L1121.6,618.6 L1125.5,621.7 L1129.4,624.7 L1133.4,627.6 L1137.3,630.5 L1141.2,633.4 L1145.1,636.3 L1149.1,639.1 L1153.0,641.9 L1156.9,644.7 L1160.8,647.5 L1164.8,650.2 L1168.7,652.9 L1172.6,655.6 L1176.5,658.2 L1180.4,660.8 L1184.4,663.4 L1188.3,666.0 L1192.2,668.5 L1196.1,671.1 L1200.1,673.6 L1204.0,676.0 L1207.9,678.5 L1211.8,680.9 L1215.8,683.3 L1219.7,685.7 L1223.6,688.1 L1227.5,690.4 L1231.5,692.7 L1235.4,695.0 L1239.3,697.3 L1243.2,699.6 L1247.2,701.8 L1251.1,704.0 L1255.0,706.2 L1258.9,708.4 L1262.9,710.5 L1266.8,712.7 L1270.7,714.8 L1274.6,716.9 L1278.6,719.0 L1282.5,721.0 L1286.4,723.1 L1290.3,725.1 L1294.3,727.1 L1298.2,729.1 L1302.1,731.1 L1306.0,733.1 L1309.9,735.0 L1313.9,736.9 L1317.8,738.9 L1321.7,740.8 L1325.6,742.6 L1329.6,744.5 L1333.5,746.4 L1337.4,748.2 L1341.3,750.0 L1345.3,751.8 L1349.2,753.6 L1353.1,755.4 L1357.0,757.1 L1361.0,758.9 L1364.9,760.6 L1368.8,762.4 L1372.7,764.1 L1376.7,765.8 L1380.6,767.4 L1384.5,769.1 L1388.4,770.8 L1392.4,772.4 L1396.3,774.0 L1400.2,775.7 L1404.1,777.3 L1408.1,778.9 L1412.0,780.4 L1415.9,782.0 L1419.8,783.6 L1423.8,785.1 L1427.7,786.7 L1431.6,788.2 L1435.5,789.7 L1439.5,791.2 L1443.4,792.7 L1447.3,794.2 L1451.2,795.6 L1455.1,797.1 L1459.1,798.5 L1463.0,800.0 L1466.9,801.4 L1470.8,802.8 L1474.8,804.2 L1478.7,805.6 L1482.6,807.0 L1486.5,808.4 L1490.5,809.8 L1494.4,811.1 L1498.3,812.5 L1502.2,813.8 L1506.2,815.1 L1510.1,816.4 L1514.0,817.8 L1517.9,819.1 L1521.9,820.4 L1525.8,821.6 L1529.7,822.9 L1533.6,824.2 L1537.6,825.4 L1541.5,826.7 L1545.4,827.9 L1549.3,829.2 L1553.3,830.4 L1557.2,831.6 L1561.1,832.8 L1565.0,834.0 L1569.0,835.2 L1572.9,836.4 L1576.8,837.6 L1580.7,838.8 L1584.7,839.9 L1588.6,841.1 L1592.5,842.2 L1596.4,843.4 L1600.3,844.5 L1604.3,845.6 L1608.2,846.7 L1612.1,847.9 L1616.0,849.0 L1620.0,850.1 L1623.9,851.1 L1627.8,852.2 L1631.7,853.3 L1635.7,854.4 L1639.6,855.4 L1643.5,856.5 L1647.4,857.6 L1651.4,858.6 L1655.3,859.6 L1659.2,860.7 L1663.1,861.7 L1667.1,862.7 L1671.0,863.7 L1674.9,864.7 L1678.8,865.7 L1682.8,866.7 L1686.7,867.7 L1690.6,868.7 L1694.5,869.7 L1698.5,870.7 L1702.4,871.6 L1706.3,872.6 L1710.2,873.5 L1714.2,874.5 L1718.1,875.4 L1722.0,876.4 L1725.9,877.3 L1729.8,878.2 L1733.8,879.1 L1737.7,880.1 L1741.6,881.0 L1745.5,881.9 L1749.5,882.8 L1753.4,883.7 L1757.3,884.6 L1761.2,885.5 L1765.2,886.3 L1769.1,887.2 L1773.0,888.1 L1776.9,888.9 L1780.9,889.8 L1784.8,890.7 L1788.7,891.5 L1792.6,892.4 L1796.6,893.2 L1800.5,894.0 L1804.4,894.9 L1808.3,895.7 L1812.3,896.5 L1816.2,897.3 L1820.1,898.2 L1824.0,899.0 L1828.0,899.8 L1831.9,900.6 L1835.8,901.4 L1839.7,902.2 L1843.7,903.0 L1847.6,903.7 L1851.5,904.5 L1855.4,905.3 L1859.4,906.1 L1863.3,906.8 L1867.2,907.6 L1871.1,908.4 L1875.0,909.1 L1879.0,909.9 L1882.9,910.6 L1886.8,911.4 L1890.7,912.1 L1894.7,912.9 L1898.6,913.6 L1902.5,914.3 L1906.4,915.0 L1910.4,915.8 L1914.3,916.5 L1918.2,917.2 L1922.1,917.9 L1926.1,918.6 L1930.0,919.3 L1933.9,920.0 L1937.8,920.7 L1941.8,921.4 L1945.7,922.1 L1949.6,922.8 L1953.5,923.5 L1957.5,924.2 L1961.4,924.8 L1965.3,925.5 L1969.2,926.2 L1973.2,926.8 L1977.1,927.5 L1981.0,928.2 L1984.9,928.8 L1988.9,929.5 L1992.8,930.1 L1996.7,930.8 L2000.6,931.4 L2004.6,932.1 L2008.5,932.7 L2012.4,933.3 L2016.3,934.0 L2020.2,934.6 L2024.2,935.2 L2028.1,935.8 L2032.0,936.5 L2035.9,937.1 L2039.9,937.7 L2043.8,938.3 L2047.7,938.9 L2051.6,939.5 L2055.6,940.1 L2059.5,940.7 L2063.4,941.3 L2067.3,941.9 L2071.3,942.5 L2075.2,943.1 L2079.1,943.7 L2083.0,944.3 L2087.0,944.8 L2090.9,945.4 L2094.8,946.0 L2098.5,946.5 M1049.4,337.8 L1053.3,342.7 L1057.2,347.6 L1061.1,352.5 L1065.1,357.3 L1069.0,362.0 L1072.9,366.7 L1076.8,371.3 L1080.8,375.9 L1084.7,380.4 L1088.6,384.9 L1092.5,389.3 L1096.5,393.7 L1100.4,398.0 L1104.3,402.3 L1108.2,406.6 L1112.2,410.8 L1116.1,414.9 L1120.0,419.0 L1123.9,423.1 L1127.9,427.1 L1131.8,431.1 L1135.7,435.0 L1139.6,438.9 L1143.6,442.8 L1147.5,446.6 L1151.4,450.4 L1155.3,454.1 L1159.3,457.8 L1163.2,461.5 L1167.1,465.2 L1171.0,468.8 L1175.0,472.3 L1178.9,475.8 L1182.8,479.3 L1186.7,482.8 L1190.7,486.2 L1194.6,489.6 L1198.5,493.0 L1202.4,496.3 L1206.3,499.6 L1210.3,502.9 L1214.2,506.1 L1218.1,509.3 L1222.0,512.5 L1226.0,515.7 L1229.9,518.8 L1233.8,521.9 L1237.7,524.9 L1241.7,528.0 L1245.6,531.0 L1249.5,534.0 L1253.4,536.9 L1257.4,539.9 L1261.3,542.8 L1265.2,545.6 L1269.1,548.5 L1273.1,551.3 L1277.0,554.1 L1280.9,556.9 L1284.8,559.7 L1288.8,562.4 L1292.7,565.1 L1296.6,567.8 L1300.5,570.5 L1304.5,573.1 L1308.4,575.7 L1312.3,578.3 L1316.2,580.9 L1320.2,583.5 L1324.1,586.0 L1328.0,588.5 L1331.9,591.0 L1335.8,593.5 L1339.8,595.9 L1343.7,598.3 L1347.6,600.8 L1351.5,603.1 L1355.5,605.5 L1359.4,607.9 L1363.3,610.2 L1367.2,612.5 L1371.2,614.8 L1375.1,617.1 L1379.0,619.4 L1382.9,621.6 L1386.9,623.9 L1390.8,626.1 L1394.7,628.3 L1398.6,630.4 L1402.6,632.6 L1406.5,634.7 L1410.4,636.9 L1414.3,639.0 L1418.3,641.1 L1422.2,643.2 L1426.1,645.2 L1430.0,647.3 L1434.0,649.3 L1437.9,651.3 L1441.8,653.3 L1445.7,655.3 L1449.7,657.3 L1453.6,659.3 L1457.5,661.2 L1461.4,663.2 L1465.4,665.1 L1469.3,667.0 L1473.2,668.9 L1477.1,670.8 L1481.0,672.6 L1485.0,674.5 L1488.9,676.3 L1492.8,678.1 L1496.7,680.0 L1500.7,681.8 L1504.6,683.5 L1508.5,685.3 L1512.4,687.1 L1516.4,688.8 L1520.3,690.6 L1524.2,692.3 L1528.1,694.0 L1532.1,695.7 L1536.0,697.4 L1539.9,699.1 L1543.8,700.8 L1547.8,702.4 L1551.7,704.1 L1555.6,705.7 L1559.5,707.3 L1563.5,709.0 L1567.4,710.6 L1571.3,712.2 L1575.2,713.8 L1579.2,715.3 L1583.1,716.9 L1587.0,718.4 L1590.9,720.0 L1594.9,721.5 L1598.8,723.0 L1602.7,724.6 L1606.6,726.1 L1610.6,727.6 L1614.5,729.0 L1618.4,730.5 L1622.3,732.0 L1626.2,733.5 L1630.2,734.9 L1634.1,736.3 L1638.0,737.8 L1641.9,739.2 L1645.9,740.6 L1649.8,742.0 L1653.7,743.4 L1657.6,744.8 L1661.6,746.2 L1665.5,747.6 L1669.4,748.9 L1673.3,750.3 L1677.3,751.6 L1681.2,753.0 L1685.1,754.3 L1689.0,755.6 L1693.0,756.9 L1696.9,758.2 L1700.8,759.5 L1704.7,760.8 L1708.7,762.1 L1712.6,763.4 L1716.5,764.6 L1720.4,765.9 L1724.4,767.2 L1728.3,768.4 L1732.2,769.6 L1736.1,770.9 L1740.1,772.1 L1744.0,773.3 L1747.9,774.5 L1751.8,775.7 L1755.7,776.9 L1759.7,778.1 L1763.6,779.3 L1767.5,780.5 L1771.4,781.7 L1775.4,782.8 L1779.3,784.0 L1783.2,785.1 L1787.1,786.3 L1791.1,787.4 L1795.0,788.6 L1798.9,789.7 L1802.8,790.8 L1806.8,791.9 L1810.7,793.0 L1814.6,794.1 L1818.5,795.2 L1822.5,796.3 L1826.4,797.4 L1830.3,798.5 L1834.2,799.5 L1838.2,800.6 L1842.1,801.7 L1846.0,802.7 L1849.9,803.8 L1853.9,804.8 L1857.8,805.9 L1861.7,806.9 L1865.6,807.9 L1869.6,808.9 L1873.5,810.0 L1877.4,811.0 L1881.3,812.0 L1885.3,813.0 L1889.2,814.0 L1893.1,815.0 L1897.0,816.0 L1900.9,816.9 L1904.9,817.9 L1908.8,818.9 L1912.7,819.9 L1916.6,820.8 L1920.6,821.8 L1924.5,822.7 L1928.4,823.7 L1932.3,824.6 L1936.3,825.5 L1940.2,826.5 L1944.1,827.4 L1948.0,828.3 L1952.0,829.2 L1955.9,830.2 L1959.8,831.1 L1963.7,832.0 L1967.7,832.9 L1971.6,833.8 L1975.5,834.7 L1979.4,835.6 L1983.4,836.4 L1987.3,837.3 L1991.2,838.2 L1995.1,839.1 L1999.1,839.9 L2003.0,840.8 L2006.9,841.6 L2010.8,842.5 L2014.8,843.3 L2018.7,844.2 L2022.6,845.0 L2026.5,845.9 L2030.5,846.7 L2034.4,847.5 L2038.3,848.4 L2042.2,849.2 L2046.1,850.0 L2050.1,850.8 L2054.0,851.6 L2057.9,852.4 L2061.8,853.2 L2065.8,854.0 L2069.7,854.8 L2073.6,855.6 L2077.5,856.4 L2081.5,857.2 L2085.4,858.0 L2089.3,858.8 L2093.2,859.5 L2097.2,860.3 L2098.5,860.6 M1140.2,247.1 L1144.1,251.9 L1148.0,256.7 L1151.9,261.4 L1155.9,266.1 L1159.8,270.7 L1163.7,275.3 L1167.6,279.9 L1171.6,284.4 L1175.5,288.8 L1179.4,293.3 L1183.3,297.6 L1187.2,302.0 L1191.2,306.3 L1195.1,310.5 L1199.0,314.7 L1202.9,318.9 L1206.9,323.0 L1210.8,327.1 L1214.7,331.2 L1218.6,335.2 L1222.6,339.2 L1226.5,343.1 L1230.4,347.0 L1234.3,350.9 L1238.3,354.7 L1242.2,358.5 L1246.1,362.3 L1250.0,366.1 L1254.0,369.8 L1257.9,373.4 L1261.8,377.1 L1265.7,380.7 L1269.7,384.2 L1273.6,387.8 L1277.5,391.3 L1281.4,394.8 L1285.4,398.2 L1289.3,401.6 L1293.2,405.0 L1297.1,408.4 L1301.1,411.7 L1305.0,415.0 L1308.9,418.3 L1312.8,421.6 L1316.8,424.8 L1320.7,428.0 L1324.6,431.2 L1328.5,434.3 L1332.4,437.4 L1336.4,440.5 L1340.3,443.6 L1344.2,446.6 L1348.1,449.7 L1352.1,452.7 L1356.0,455.6 L1359.9,458.6 L1363.8,461.5 L1367.8,464.4 L1371.7,467.3 L1375.6,470.2 L1379.5,473.0 L1383.5,475.8 L1387.4,478.6 L1391.3,481.4 L1395.2,484.1 L1399.2,486.8 L1403.1,489.5 L1407.0,492.2 L1410.9,494.9 L1414.9,497.5 L1418.8,500.2 L1422.7,502.8 L1426.6,505.4 L1430.6,507.9 L1434.5,510.5 L1438.4,513.0 L1442.3,515.5 L1446.3,518.0 L1450.2,520.5 L1454.1,522.9 L1458.0,525.4 L1462.0,527.8 L1465.9,530.2 L1469.8,532.6 L1473.7,535.0 L1477.6,537.3 L1481.6,539.7 L1485.5,542.0 L1489.4,544.3 L1493.3,546.6 L1497.3,548.8 L1501.2,551.1 L1505.1,553.3 L1509.0,555.6 L1513.0,557.8 L1516.9,560.0 L1520.8,562.2 L1524.7,564.3 L1528.7,566.5 L1532.6,568.6 L1536.5,570.7 L1540.4,572.8 L1544.4,574.9 L1548.3,577.0 L1552.2,579.1 L1556.1,581.1 L1560.1,583.2 L1564.0,585.2 L1567.9,587.2 L1571.8,589.2 L1575.8,591.2 L1579.7,593.1 L1583.6,595.1 L1587.5,597.1 L1591.5,599.0 L1595.4,600.9 L1599.3,602.8 L1603.2,604.7 L1607.1,606.6 L1611.1,608.5 L1615.0,610.3 L1618.9,612.2 L1622.8,614.0 L1626.8,615.9 L1630.7,617.7 L1634.6,619.5 L1638.5,621.3 L1642.5,623.0 L1646.4,624.8 L1650.3,626.6 L1654.2,628.3 L1658.2,630.1 L1662.1,631.8 L1666.0,633.5 L1669.9,635.2 L1673.9,636.9 L1677.8,638.6 L1681.7,640.3 L1685.6,641.9 L1689.6,643.6 L1693.5,645.2 L1697.4,646.9 L1701.3,648.5 L1705.3,650.1 L1709.2,651.7 L1713.1,653.3 L1717.0,654.9 L1721.0,656.5 L1724.9,658.1 L1728.8,659.6 L1732.7,661.2 L1736.7,662.7 L1740.6,664.3 L1744.5,665.8 L1748.4,667.3 L1752.3,668.8 L1756.3,670.3 L1760.2,671.8 L1764.1,673.3 L1768.0,674.8 L1772.0,676.2 L1775.9,677.7 L1779.8,679.2 L1783.7,680.6 L1787.7,682.0 L1791.6,683.5 L1795.5,684.9 L1799.4,686.3 L1803.4,687.7 L1807.3,689.1 L1811.2,690.5 L1815.1,691.9 L1819.1,693.2 L1823.0,694.6 L1826.9,695.9 L1830.8,697.3 L1834.8,698.6 L1838.7,700.0 L1842.6,701.3 L1846.5,702.6 L1850.5,703.9 L1854.4,705.3 L1858.3,706.6 L1862.2,707.8 L1866.2,709.1 L1870.1,710.4 L1874.0,711.7 L1877.9,713.0 L1881.9,714.2 L1885.8,715.5 L1889.7,716.7 L1893.6,718.0 L1897.5,719.2 L1901.5,720.4 L1905.4,721.7 L1909.3,722.9 L1913.2,724.1 L1917.2,725.3 L1921.1,726.5 L1925.0,727.7 L1928.9,728.9 L1932.9,730.0 L1936.8,731.2 L1940.7,732.4 L1944.6,733.5 L1948.6,734.7 L1952.5,735.8 L1956.4,737.0 L1960.3,738.1 L1964.3,739.3 L1968.2,740.4 L1972.1,741.5 L1976.0,742.6 L1980.0,743.7 L1983.9,744.9 L1987.8,746.0 L1991.7,747.0 L1995.7,748.1 L1999.6,749.2 L2003.5,750.3 L2007.4,751.4 L2011.4,752.4 L2015.3,753.5 L2019.2,754.6 L2023.1,755.6 L2027.0,756.7 L2031.0,757.7 L2034.9,758.8 L2038.8,759.8 L2042.7,760.8 L2046.7,761.8 L2050.6,762.9 L2054.5,763.9 L2058.4,764.9 L2062.4,765.9 L2066.3,766.9 L2070.2,767.9 L2074.1,768.9 L2078.1,769.9 L2082.0,770.9 L2085.9,771.8 L2089.8,772.8 L2093.8,773.8 L2097.7,774.7 L2098.5,774.9 M1222.0,165.2 L1226.0,169.9 L1229.9,174.6 L1233.8,179.3 L1237.7,183.9 L1241.7,188.5 L1245.6,193.0 L1249.5,197.5 L1253.4,201.9 L1257.4,206.4 L1261.3,210.7 L1265.2,215.1 L1269.1,219.4 L1273.1,223.6 L1277.0,227.9 L1280.9,232.0 L1284.8,236.2 L1288.8,240.3 L1292.7,244.4 L1296.6,248.4 L1300.5,252.5 L1304.5,256.4 L1308.4,260.4 L1312.3,264.3 L1316.2,268.2 L1320.2,272.0 L1324.1,275.8 L1328.0,279.6 L1331.9,283.4 L1335.8,287.1 L1339.8,290.8 L1343.7,294.5 L1347.6,298.1 L1351.5,301.7 L1355.5,305.3 L1359.4,308.8 L1363.3,312.3 L1367.2,315.8 L1371.2,319.3 L1375.1,322.7 L1379.0,326.1 L1382.9,329.5 L1386.9,332.9 L1390.8,336.2 L1394.7,339.5 L1398.6,342.8 L1402.6,346.1 L1406.5,349.3 L1410.4,352.5 L1414.3,355.7 L1418.3,358.8 L1422.2,362.0 L1426.1,365.1 L1430.0,368.2 L1434.0,371.3 L1437.9,374.3 L1441.8,377.3 L1445.7,380.3 L1449.7,383.3 L1453.6,386.3 L1457.5,389.2 L1461.4,392.1 L1465.4,395.0 L1469.3,397.9 L1473.2,400.7 L1477.1,403.5 L1481.0,406.4 L1485.0,409.2 L1488.9,411.9 L1492.8,414.7 L1496.7,417.4 L1500.7,420.1 L1504.6,422.8 L1508.5,425.5 L1512.4,428.2 L1516.4,430.8 L1520.3,433.4 L1524.2,436.0 L1528.1,438.6 L1532.1,441.2 L1536.0,443.7 L1539.9,446.3 L1543.8,448.8 L1547.8,451.3 L1551.7,453.8 L1555.6,456.2 L1559.5,458.7 L1563.5,461.1 L1567.4,463.5 L1571.3,465.9 L1575.2,468.3 L1579.2,470.7 L1583.1,473.1 L1587.0,475.4 L1590.9,477.7 L1594.9,480.0 L1598.8,482.3 L1602.7,484.6 L1606.6,486.9 L1610.6,489.1 L1614.5,491.4 L1618.4,493.6 L1622.3,495.8 L1626.2,498.0 L1630.2,500.2 L1634.1,502.4 L1638.0,504.5 L1641.9,506.7 L1645.9,508.8 L1649.8,510.9 L1653.7,513.0 L1657.6,515.1 L1661.6,517.2 L1665.5,519.3 L1669.4,521.3 L1673.3,523.3 L1677.3,525.4 L1681.2,527.4 L1685.1,529.4 L1689.0,531.4 L1693.0,533.4 L1696.9,535.3 L1700.8,537.3 L1704.7,539.2 L1708.7,541.2 L1712.6,543.1 L1716.5,545.0 L1720.4,546.9 L1724.4,548.8 L1728.3,550.7 L1732.2,552.5 L1736.1,554.4 L1740.1,556.2 L1744.0,558.1 L1747.9,559.9 L1751.8,561.7 L1755.7,563.5 L1759.7,565.3 L1763.6,567.1 L1767.5,568.9 L1771.4,570.6 L1775.4,572.4 L1779.3,574.1 L1783.2,575.9 L1787.1,577.6 L1791.1,579.3 L1795.0,581.0 L1798.9,582.7 L1802.8,584.4 L1806.8,586.1 L1810.7,587.8 L1814.6,589.4 L1818.5,591.1 L1822.5,592.7 L1826.4,594.4 L1830.3,596.0 L1834.2,597.6 L1838.2,599.2 L1842.1,600.8 L1846.0,602.4 L1849.9,604.0 L1853.9,605.5 L1857.8,607.1 L1861.7,608.7 L1865.6,610.2 L1869.6,611.8 L1873.5,613.3 L1877.4,614.8 L1881.3,616.3 L1885.3,617.8 L1889.2,619.3 L1893.1,620.8 L1897.0,622.3 L1900.9,623.8 L1904.9,625.3 L1908.8,626.7 L1912.7,628.2 L1916.6,629.6 L1920.6,631.1 L1924.5,632.5 L1928.4,633.9 L1932.3,635.3 L1936.3,636.8 L1940.2,638.2 L1944.1,639.6 L1948.0,641.0 L1952.0,642.3 L1955.9,643.7 L1959.8,645.1 L1963.7,646.4 L1967.7,647.8 L1971.6,649.2 L1975.5,650.5 L1979.4,651.8 L1983.4,653.2 L1987.3,654.5 L1991.2,655.8 L1995.1,657.1 L1999.1,658.4 L2003.0,659.7 L2006.9,661.0 L2010.8,662.3 L2014.8,663.6 L2018.7,664.9 L2022.6,666.1 L2026.5,667.4 L2030.5,668.6 L2034.4,669.9 L2038.3,671.1 L2042.2,672.4 L2046.1,673.6 L2050.1,674.8 L2054.0,676.1 L2057.9,677.3 L2061.8,678.5 L2065.8,679.7 L2069.7,680.9 L2073.6,682.1 L2077.5,683.3 L2081.5,684.4 L2085.4,685.6 L2089.3,686.8 L2093.2,688.0 L2097.2,689.1 L2098.5,689.5 M1287.5,78.0 L1291.4,82.8 L1295.3,87.5 L1299.2,92.2 L1303.1,96.9 L1307.1,101.5 L1311.0,106.1 L1314.9,110.7 L1318.8,115.2 L1322.8,119.6 L1326.7,124.1 L1330.6,128.5 L1334.5,132.8 L1338.5,137.1 L1342.4,141.4 L1346.3,145.7 L1350.2,149.9 L1354.2,154.1 L1358.1,158.3 L1362.0,162.4 L1365.9,166.5 L1369.9,170.5 L1373.8,174.5 L1377.7,178.5 L1381.6,182.5 L1385.6,186.4 L1389.5,190.3 L1393.4,194.2 L1397.3,198.0 L1401.3,201.9 L1405.2,205.6 L1409.1,209.4 L1413.0,213.1 L1417.0,216.8 L1420.9,220.5 L1424.8,224.1 L1428.7,227.8 L1432.6,231.3 L1436.6,234.9 L1440.5,238.4 L1444.4,242.0 L1448.3,245.4 L1452.3,248.9 L1456.2,252.3 L1460.1,255.7 L1464.0,259.1 L1468.0,262.5 L1471.9,265.8 L1475.8,269.1 L1479.7,272.4 L1483.7,275.7 L1487.6,279.0 L1491.5,282.2 L1495.4,285.4 L1499.4,288.5 L1503.3,291.7 L1507.2,294.8 L1511.1,297.9 L1515.1,301.0 L1519.0,304.1 L1522.9,307.2 L1526.8,310.2 L1530.8,313.2 L1534.7,316.2 L1538.6,319.1 L1542.5,322.1 L1546.5,325.0 L1550.4,327.9 L1554.3,330.8 L1558.2,333.7 L1562.2,336.5 L1566.1,339.4 L1570.0,342.2 L1573.9,345.0 L1577.8,347.7 L1581.8,350.5 L1585.7,353.2 L1589.6,356.0 L1593.5,358.7 L1597.5,361.4 L1601.4,364.0 L1605.3,366.7 L1609.2,369.3 L1613.2,371.9 L1617.1,374.5 L1621.0,377.1 L1624.9,379.7 L1628.9,382.3 L1632.8,384.8 L1636.7,387.3 L1640.6,389.8 L1644.6,392.3 L1648.5,394.8 L1652.4,397.3 L1656.3,399.7 L1660.3,402.1 L1664.2,404.6 L1668.1,407.0 L1672.0,409.3 L1676.0,411.7 L1679.9,414.1 L1683.8,416.4 L1687.7,418.8 L1691.7,421.1 L1695.6,423.4 L1699.5,425.7 L1703.4,427.9 L1707.4,430.2 L1711.3,432.5 L1715.2,434.7 L1719.1,436.9 L1723.0,439.1 L1727.0,441.3 L1730.9,443.5 L1734.8,445.7 L1738.7,447.8 L1742.7,450.0 L1746.6,452.1 L1750.5,454.3 L1754.4,456.4 L1758.4,458.5 L1762.3,460.6 L1766.2,462.6 L1770.1,464.7 L1774.1,466.7 L1778.0,468.8 L1781.9,470.8 L1785.8,472.8 L1789.8,474.8 L1793.7,476.8 L1797.6,478.8 L1801.5,480.8 L1805.5,482.8 L1809.4,484.7 L1813.3,486.7 L1817.2,488.6 L1821.2,490.5 L1825.1,492.4 L1829.0,494.3 L1832.9,496.2 L1836.9,498.1 L1840.8,500.0 L1844.7,501.8 L1848.6,503.7 L1852.5,505.5 L1856.5,507.3 L1860.4,509.2 L1864.3,511.0 L1868.2,512.8 L1872.2,514.6 L1876.1,516.4 L1880.0,518.1 L1883.9,519.9 L1887.9,521.7 L1891.8,523.4 L1895.7,525.1 L1899.6,526.9 L1903.6,528.6 L1907.5,530.3 L1911.4,532.0 L1915.3,533.7 L1919.3,535.4 L1923.2,537.1 L1927.1,538.7 L1931.0,540.4 L1935.0,542.0 L1938.9,543.7 L1942.8,545.3 L1946.7,546.9 L1950.7,548.6 L1954.6,550.2 L1958.5,551.8 L1962.4,553.4 L1966.4,555.0 L1970.3,556.5 L1974.2,558.1 L1978.1,559.7 L1982.1,561.2 L1986.0,562.8 L1989.9,564.3 L1993.8,565.8 L1997.7,567.4 L2001.7,568.9 L2005.6,570.4 L2009.5,571.9 L2013.4,573.4 L2017.4,574.9 L2021.3,576.4 L2025.2,577.9 L2029.1,579.3 L2033.1,580.8 L2037.0,582.2 L2040.9,583.7 L2044.8,585.1 L2048.8,586.6 L2052.7,588.0 L2056.6,589.4 L2060.5,590.8 L2064.5,592.2 L2068.4,593.6 L2072.3,595.0 L2076.2,596.4 L2080.2,597.8 L2084.1,599.2 L2088.0,600.5 L2091.9,601.9 L2095.9,603.3 L2098.5,604.2 M1644.3,276.5 L1648.2,279.3 L1652.1,282.1 L1656.1,284.9 L1660.0,287.7 L1663.9,290.4 L1667.8,293.2 L1671.8,295.9 L1675.7,298.6 L1679.6,301.3 L1683.5,304.0 L1687.5,306.7 L1691.4,309.3 L1695.3,312.0 L1699.2,314.6 L1703.2,317.2 L1707.1,319.8 L1711.0,322.4 L1714.9,324.9 L1718.9,327.5 L1722.8,330.0 L1726.7,332.5 L1730.6,335.0 L1734.6,337.5 L1738.5,340.0 L1742.4,342.4 L1746.3,344.9 L1750.3,347.3 L1754.2,349.7 L1758.1,352.1 L1762.0,354.5 L1766.0,356.9 L1769.9,359.2 L1773.8,361.6 L1777.7,363.9 L1781.7,366.3 L1785.6,368.6 L1789.5,370.9 L1793.4,373.1 L1797.3,375.4 L1801.3,377.7 L1805.2,379.9 L1809.1,382.2 L1813.0,384.4 L1817.0,386.6 L1820.9,388.8 L1824.8,391.0 L1828.7,393.1 L1832.7,395.3 L1836.6,397.5 L1840.5,399.6 L1844.4,401.7 L1848.4,403.8 L1852.3,405.9 L1856.2,408.0 L1860.1,410.1 L1864.1,412.2 L1868.0,414.3 L1871.9,416.3 L1875.8,418.3 L1879.8,420.4 L1883.7,422.4 L1887.6,424.4 L1891.5,426.4 L1895.5,428.4 L1899.4,430.4 L1903.3,432.3 L1907.2,434.3 L1911.2,436.2 L1915.1,438.2 L1919.0,440.1 L1922.9,442.0 L1926.8,443.9 L1930.8,445.8 L1934.7,447.7 L1938.6,449.6 L1942.5,451.5 L1946.5,453.3 L1950.4,455.2 L1954.3,457.0 L1958.2,458.9 L1962.2,460.7 L1966.1,462.5 L1970.0,464.3 L1973.9,466.1 L1977.9,467.9 L1981.8,469.7 L1985.7,471.4 L1989.6,473.2 L1993.6,475.0 L1997.5,476.7 L2001.4,478.4 L2005.3,480.2 L2009.3,481.9 L2013.2,483.6 L2017.1,485.3 L2021.0,487.0 L2025.0,488.7 L2028.9,490.4 L2032.8,492.0 L2036.7,493.7 L2040.7,495.4 L2044.6,497.0 L2048.5,498.7 L2052.4,500.3 L2056.4,501.9 L2060.3,503.5 L2064.2,505.1 L2068.1,506.7 L2072.0,508.3 L2076.0,509.9 L2079.9,511.5 L2083.8,513.1 L2087.7,514.7 L2091.7,516.2 L2095.6,517.8 L2098.5,518.9 M635.4,753.1 L657.7,715.3 M635.4,901.4 L1679.9,-274.5 M635.4,975.6 L1542.0,210.1 M635.4,1020.1 L1692.7,305.9 M635.4,1049.8 L1829.0,377.9 M635.4,1079.5 L2005.6,462.4 M635.4,1109.2 L2098.5,615.0 M635.4,1138.8 L2098.5,809.4 M635.4,1153.7 L2098.5,906.6" stroke="#7d7e80" stroke-width="1" fill="none"/></g>
<g font-family="Liberation Sans, sans-serif" font-size="13" letter-spacing="0.6" fill="#737477"><text x="634.1" y="736.5" text-anchor="end">2G</text><text x="730.4" y="639.9" text-anchor="end">3G</text><text x="807.7" y="565.5" text-anchor="end">4G</text><text x="874.8" y="502.0" text-anchor="end">5G</text><text x="934.5" y="444.6" text-anchor="end">6G</text><text x="1038.9" y="342.3" text-anchor="end">8G</text><text x="1129.7" y="251.6" text-anchor="end">10G</text><text x="1211.5" y="169.7" text-anchor="end">12G</text><text x="1633.8" y="281.0" text-anchor="end">16G</text><text x="669.7" y="719.8">200m</text><text x="1554.0" y="214.6">400m</text><text x="1704.7" y="310.4">500m</text><text x="1841.0" y="382.4">600m</text><text x="2017.6" y="466.9">750m</text><text x="2110.5" y="619.5">1000m</text><text x="2110.5" y="813.9">1500m</text><text x="2110.5" y="911.1">2000m</text></g>
<g clip-path="url(#pc2)"><path d="M1026.7,364.6 L1030.7,369.6 L1034.6,374.5 L1038.5,379.3 L1042.4,384.1 L1046.4,388.9 L1050.3,393.5 L1054.2,398.2 L1058.1,402.7 L1062.1,407.3 L1066.0,411.7 L1069.9,416.2 L1073.8,420.5 L1077.8,424.8 L1081.7,429.1 L1085.6,433.3 L1089.5,437.5 L1093.5,441.7 L1097.4,445.8 L1101.3,449.8 L1105.2,453.8 L1109.2,457.8 L1113.1,461.7 L1117.0,465.6 L1120.9,469.4 L1124.9,473.2 L1128.8,477.0 L1132.7,480.7 L1136.6,484.4 L1140.6,488.0 L1144.5,491.6 L1148.4,495.2 L1152.3,498.7 L1156.2,502.2 L1160.2,505.7 L1164.1,509.1 L1168.0,512.5 L1171.9,515.9 L1175.9,519.2 L1179.8,522.5 L1183.7,525.8 L1187.6,529.0 L1191.6,532.2 L1195.5,535.4 L1199.4,538.5 L1203.3,541.6 L1207.3,544.7 L1211.2,547.8 L1215.1,550.8 L1219.0,553.8 L1223.0,556.8 L1226.9,559.7 L1230.8,562.6 L1234.7,565.5 L1238.7,568.4 L1242.6,571.2 L1246.5,574.0 L1250.4,576.8 L1254.4,579.6 L1258.3,582.3 L1262.2,585.0 L1266.1,587.7 L1270.1,590.4 L1274.0,593.0 L1277.9,595.7 L1281.8,598.3 L1285.7,600.8 L1289.7,603.4 L1293.6,605.9 L1297.5,608.4 L1301.4,610.9 L1305.4,613.4 L1309.3,615.8 L1313.2,618.3 L1317.1,620.7 L1321.1,623.1 L1325.0,625.4 L1328.9,627.8 L1332.8,630.1 L1336.8,632.4 L1340.7,634.7 L1344.6,637.0 L1348.5,639.2 L1352.5,641.5 L1356.4,643.7 L1360.3,645.9 L1364.2,648.1 L1368.2,650.2 L1372.1,652.4 L1376.0,654.5 L1379.9,656.6 L1383.9,658.7 L1387.8,660.8 L1391.7,662.9 L1395.6,664.9 L1399.6,667.0 L1403.5,669.0 L1407.4,671.0 L1411.3,673.0 L1415.3,675.0 L1419.2,676.9 L1423.1,678.9 L1427.0,680.8 L1430.9,682.7 L1434.9,684.6 L1438.8,686.5 L1442.7,688.4 L1446.6,690.3 L1450.6,692.1 L1454.5,693.9 L1458.4,695.8 L1462.3,697.6 L1466.3,699.4 L1470.2,701.1 L1474.1,702.9 L1478.0,704.7 L1482.0,706.4 L1485.9,708.1 L1489.8,709.9 L1493.7,711.6 L1497.7,713.3 L1501.6,715.0 L1505.5,716.6 L1509.4,718.3 L1513.4,719.9 L1517.3,721.6 L1521.2,723.2 L1525.1,724.8 L1529.1,726.4 L1533.0,728.0 L1536.9,729.6 L1540.8,731.2 L1544.8,732.7 L1548.7,734.3 L1552.6,735.8 L1556.5,737.4 L1560.5,738.9 L1564.4,740.4 L1568.3,741.9 L1572.2,743.4 L1576.1,744.9 L1580.1,746.3 L1584.0,747.8 L1587.9,749.3 L1591.8,750.7 L1595.8,752.1 L1599.7,753.6 L1603.6,755.0 L1607.5,756.4 L1611.5,757.8 L1615.4,759.2 L1619.3,760.6 L1623.2,761.9 L1627.2,763.3 L1631.1,764.6 L1635.0,766.0 L1638.9,767.3 L1642.9,768.7 L1646.8,770.0 L1650.7,771.3 L1654.6,772.6 L1658.6,773.9 L1662.5,775.2 L1666.4,776.5 L1670.3,777.8 L1674.3,779.0 L1678.2,780.3 L1682.1,781.5 L1686.0,782.8 L1690.0,784.0 L1693.9,785.2 L1697.8,786.5 L1701.7,787.7 L1705.6,788.9 L1709.6,790.1 L1713.5,791.3 L1717.4,792.5 L1721.3,793.6 L1725.3,794.8 L1729.2,796.0 L1733.1,797.1 L1737.0,798.3 L1741.0,799.4 L1744.9,800.6 L1748.8,801.7 L1752.7,802.8 L1756.7,804.0 L1760.6,805.1 L1764.5,806.2 L1768.4,807.3 L1772.4,808.4 L1776.3,809.5 L1780.2,810.6 L1784.1,811.6 L1788.1,812.7 L1792.0,813.8 L1795.9,814.8 L1799.8,815.9 L1803.8,816.9 L1807.7,818.0 L1811.6,819.0 L1815.5,820.0 L1819.5,821.1 L1823.4,822.1 L1827.3,823.1 L1831.2,824.1 L1835.2,825.1 L1839.1,826.1 L1843.0,827.1 L1846.9,828.1 L1850.8,829.1 L1854.8,830.0 L1858.7,831.0 L1862.6,832.0 L1866.5,832.9 L1870.5,833.9 L1874.4,834.9 L1878.3,835.8 L1882.2,836.7 L1886.2,837.7 L1890.1,838.6 L1894.0,839.5 L1897.9,840.5 L1901.9,841.4 L1905.8,842.3 L1909.7,843.2 L1913.6,844.1 L1917.6,845.0 L1921.5,845.9 L1925.4,846.8 L1929.3,847.7 L1933.3,848.5 L1937.2,849.4 L1941.1,850.3 L1945.0,851.2 L1949.0,852.0 L1952.9,852.9 L1956.8,853.7 L1960.7,854.6 L1964.7,855.4 L1968.6,856.3 L1972.5,857.1 L1976.4,858.0 L1980.4,858.8 L1984.3,859.6 L1988.2,860.4 L1992.1,861.3 L1996.0,862.1 L2000.0,862.9 L2003.9,863.7 L2007.8,864.5 L2011.7,865.3 L2015.7,866.1 L2019.6,866.9 L2023.5,867.7 L2027.4,868.4 L2031.4,869.2 L2035.3,870.0 L2039.2,870.8 L2043.1,871.5 L2047.1,872.3 L2051.0,873.1 L2054.9,873.8 L2058.8,874.6 L2062.8,875.3 L2066.7,876.1 L2070.6,876.8 L2072.0,877.1" stroke="#ff8a22" stroke-width="2" stroke-dasharray="3,3" fill="none"/><path d="M766.9,1064.7 L768.0,1060.8 L769.0,1057.0 L770.1,1053.1 L771.2,1049.2 L772.2,1045.4 L773.3,1041.5 L774.4,1037.7 L775.5,1033.8 L776.7,1030.0 L777.9,1026.2 L779.2,1022.4 L780.6,1018.6 L782.1,1014.9 L783.6,1011.2 L785.2,1007.5 L786.8,1003.9 L788.5,1000.3 L790.3,996.6 L792.1,993.1 L793.9,989.5 L795.7,985.9 L797.6,982.4 L799.6,978.9 L801.5,975.4 L803.5,971.9 L805.5,968.4 L807.6,965.0 L809.7,961.6 L811.9,958.2 L814.1,954.9 L816.4,951.6 L818.8,948.4 L821.2,945.3 L823.8,942.2 L826.5,939.2 L829.2,936.3 L832.0,933.5 L834.9,930.7 L837.8,927.9 L840.7,925.2 L843.6,922.4 L846.4,919.6 L849.2,916.7 L852.0,913.9 L854.8,911.0 L857.6,908.1 L860.4,905.2 L863.2,902.3 L866.0,899.5 L868.8,896.6 L871.7,893.8 L874.5,891.0 L877.4,888.3 L880.4,885.6 L883.4,882.9 L886.5,880.3 L889.6,877.8 L892.8,875.4 L896.0,873.0 L899.3,870.7 L902.6,868.5 L906.0,866.4 L909.4,864.3 L912.9,862.3 L916.3,860.3 L919.9,858.4 L923.4,856.5 L927.0,854.7 L930.6,852.9 L934.2,851.2 L937.8,849.4 L941.4,847.7 L945.1,846.0 L948.7,844.4 L952.4,842.7 L956.0,841.1 L959.7,839.5 L963.4,837.9 L967.1,836.4 L970.8,834.9 L974.5,833.4 L978.2,831.9 L982.0,830.5 L985.8,829.1 L989.5,827.7 L993.3,826.4 L997.1,825.0 L1000.8,823.7 L1004.6,822.4 L1008.4,821.1 L1012.2,819.8 L1016.0,818.5 L1019.8,817.2 L1023.6,815.9 L1027.4,814.6 L1031.2,813.4 L1035.0,812.1 L1038.8,810.9 L1042.6,809.7 L1046.5,808.4 L1050.3,807.2 L1054.1,806.1 L1057.9,804.9 L1061.8,803.7 L1065.6,802.5 L1069.5,801.4 L1073.3,800.3 L1077.1,799.1 L1081.0,798.0 L1084.8,796.9 L1088.7,795.8 L1092.5,794.7 L1096.4,793.6 L1100.3,792.5 L1104.1,791.4 L1108.0,790.3 L1111.8,789.2 L1115.7,788.2 L1119.6,787.1 L1123.4,786.0 L1127.3,785.0 L1131.2,784.0 L1135.1,783.0 L1138.9,782.0 L1142.8,781.0 L1146.7,780.0 L1150.6,779.0 L1154.5,778.1 L1158.4,777.2 L1162.3,776.2 L1166.2,775.3 L1170.1,774.4 L1174.0,773.5 L1177.9,772.7 L1181.9,771.8 L1185.8,770.9 L1189.7,770.1 L1193.6,769.3 L1197.5,768.4 L1201.5,767.6 L1205.4,766.8 L1209.3,766.0 L1213.2,765.3 L1217.2,764.5 L1221.1,763.7 L1225.1,763.0 L1229.0,762.3 L1232.9,761.5 L1236.9,760.8 L1240.8,760.2 L1244.8,759.5 L1248.7,758.8 L1252.7,758.2 L1256.7,757.6 L1260.6,757.0 L1264.6,756.4 L1268.6,755.8 L1272.5,755.3 L1276.5,754.7 L1280.5,754.2 L1284.5,753.7 L1288.4,753.3 L1292.4,752.8 L1296.4,752.3 L1300.4,751.9 L1304.4,751.5 L1308.4,751.0 L1312.3,750.6 L1316.3,750.2 L1320.3,749.8 L1324.3,749.4 L1328.3,749.0 L1332.3,748.6 L1336.3,748.2 L1340.3,747.9 L1344.3,747.5 L1348.3,747.2 L1352.2,746.8 L1356.2,746.5 L1360.2,746.2 L1364.2,745.9 L1368.2,745.6 L1372.2,745.3 L1376.2,745.0 L1380.2,744.8 L1384.2,744.5 L1388.2,744.2 L1392.2,744.0 L1396.2,743.7 L1400.2,743.5 L1404.2,743.3 L1408.2,743.1 L1412.2,742.9 L1416.2,742.6 L1420.3,742.4 L1424.3,742.3 L1428.3,742.1 L1432.3,741.9 L1436.3,741.7 L1440.3,741.6 L1444.3,741.4 L1448.3,741.2 L1452.3,741.1 L1456.3,740.9 L1460.3,740.8 L1464.3,740.7 L1468.3,740.5 L1472.3,740.4 L1476.3,740.3 L1480.3,740.1 L1484.3,740.0 L1488.3,739.9 L1492.4,739.8 L1496.4,739.7 L1500.4,739.6 L1504.4,739.5 L1508.4,739.4 L1512.4,739.3 L1516.4,739.2 L1520.4,739.1 L1524.4,739.0 L1528.4,738.9 L1532.4,738.9 L1536.4,738.8 L1540.4,738.7 L1544.5,738.7 L1548.5,738.6 L1552.5,738.5 L1556.5,738.5 L1560.5,738.4 L1564.5,738.4 L1568.5,738.4 L1572.5,738.3 L1576.5,738.3 L1580.5,738.3 L1584.5,738.3 L1588.5,738.2 L1592.6,738.2 L1596.6,738.2 L1600.6,738.2 L1604.6,738.3 L1608.6,738.3 L1612.6,738.3 L1616.6,738.3 L1620.6,738.4 L1624.6,738.4 L1628.6,738.4 L1632.6,738.5 L1636.7,738.5 L1640.7,738.6 L1644.7,738.7 L1648.7,738.7 L1652.7,738.8 L1656.7,738.9 L1660.7,739.0 L1664.7,739.0 L1668.7,739.1 L1672.7,739.2 L1676.7,739.3 L1680.7,739.5 L1684.7,739.6 L1688.8,739.7 L1692.8,739.9 L1696.8,740.0 L1700.8,740.2 L1704.8,740.3 L1708.8,740.5 L1712.8,740.7 L1716.8,741.0 L1720.8,741.2 L1724.8,741.4 L1728.8,741.7 L1732.8,742.0 L1736.8,742.3 L1740.8,742.7 L1744.8,743.1 L1748.8,743.4 L1752.7,743.8 L1756.7,744.2 L1760.7,744.6 L1764.7,745.0 L1768.7,745.5 L1772.7,745.9 L1776.7,746.3 L1780.7,746.7 L1784.6,747.0 L1788.6,747.4 L1792.6,747.7 L1796.6,748.0 L1800.6,748.3 L1804.6,748.6 L1808.6,749.0 L1812.6,749.4 L1816.6,749.9 L1820.5,750.5 L1824.4,751.3 L1828.3,752.1 L1832.2,753.1 L1836.0,754.3 L1839.8,755.6 L1843.5,757.1 L1847.1,758.7 L1850.6,760.6 L1854.1,762.6 L1857.4,764.7 L1860.7,766.9 L1864.0,769.3 L1867.2,771.7 L1870.3,774.2 L1873.4,776.7 L1876.4,779.3 L1879.4,782.0 L1882.4,784.7 L1885.3,787.5 L1888.1,790.3 L1890.9,793.2 L1893.7,796.1 L1896.4,799.0 L1899.1,801.9 L1901.8,804.9 L1904.4,807.9 L1907.1,811.0 L1909.7,814.0 L1912.2,817.1 L1914.7,820.2 L1917.2,823.4 L1919.6,826.6 L1921.9,829.8 L1924.2,833.1 L1926.4,836.5 L1928.6,839.8 L1930.7,843.2 L1932.8,846.6 L1934.9,850.1 L1936.9,853.5 L1938.9,857.0 L1940.9,860.5 L1942.9,864.0 L1944.9,867.5 L1946.8,871.0 L1948.8,874.5 L1950.7,878.0 L1952.6,881.5 L1954.5,885.1 L1956.3,888.6 L1958.1,892.2 L1959.9,895.8 L1961.7,899.4 L1963.4,903.0 L1965.1,906.6 L1966.7,910.3 L1968.3,913.9 L1969.9,917.6 L1971.5,921.3 L1973.0,925.0 L1974.5,928.7 L1976.0,932.5 L1977.5,936.2 L1979.0,939.9 L1980.4,943.7 L1981.9,947.4 L1983.3,951.1 L1984.7,954.9 L1986.2,958.6 L1987.6,962.4 L1989.0,966.1 L1990.5,969.9 L1991.9,973.6 L1993.3,977.4 L1994.6,981.1 L1996.0,984.9 L1997.3,988.7 L1998.5,992.5 L1999.7,996.3 L2000.8,1000.2 L2001.9,1004.0 L2002.9,1007.9 L2003.9,1011.8 L2004.9,1015.7 L2005.9,1019.6 L2006.9,1023.5 L2007.8,1027.4 L2008.7,1031.3 L2009.6,1035.2 L2010.6,1039.1 L2011.5,1043.0 L2012.3,1046.9 L2013.2,1050.8 L2014.1,1054.7 L2015.0,1058.6 L2015.8,1062.5 L2016.6,1066.5 L2017.4,1070.4 L2018.2,1074.3 L2019.0,1078.2 L2019.7,1082.2 L2020.3,1086.1 L2020.9,1090.1 L2021.4,1094.1 L2021.9,1098.1 L2022.3,1102.0 L2022.7,1106.0 L2023.1,1110.0 L2023.5,1114.0 L2023.9,1118.0" stroke="#3b7dc4" stroke-width="2" stroke-dasharray="15,6,3,6" fill="none"/><path d="M751.2,1045.1 L752.3,1041.2 L753.4,1037.4 L754.5,1033.6 L755.7,1029.7 L756.9,1025.9 L758.2,1022.1 L759.6,1018.4 L761.0,1014.6 L762.4,1010.9 L763.8,1007.1 L765.3,1003.4 L766.8,999.7 L768.4,996.0 L770.0,992.3 L771.6,988.7 L773.3,985.0 L775.0,981.4 L776.7,977.8 L778.5,974.2 L780.4,970.7 L782.3,967.2 L784.3,963.7 L786.3,960.2 L788.3,956.8 L790.4,953.4 L792.6,950.0 L794.7,946.6 L796.9,943.3 L799.2,939.9 L801.4,936.6 L803.8,933.4 L806.1,930.1 L808.5,926.9 L810.9,923.7 L813.3,920.5 L815.8,917.4 L818.3,914.3 L820.9,911.2 L823.4,908.1 L826.1,905.1 L828.8,902.1 L831.5,899.2 L834.3,896.3 L837.1,893.5 L839.9,890.7 L842.8,887.9 L845.8,885.2 L848.8,882.5 L851.8,879.9 L854.8,877.3 L857.9,874.7 L861.0,872.2 L864.1,869.7 L867.3,867.2 L870.5,864.8 L873.7,862.4 L876.9,860.1 L880.2,857.8 L883.5,855.5 L886.9,853.3 L890.3,851.2 L893.7,849.1 L897.1,847.1 L900.6,845.2 L904.2,843.3 L907.8,841.5 L911.4,839.8 L915.0,838.1 L918.7,836.5 L922.3,834.9 L926.0,833.3 L929.7,831.7 L933.4,830.2 L937.1,828.6 L940.8,827.1 L944.5,825.5 L948.2,824.0 L951.9,822.5 L955.6,820.9 L959.3,819.4 L963.0,817.9 L966.7,816.4 L970.4,814.9 L974.2,813.4 L977.9,812.0 L981.6,810.5 L985.4,809.1 L989.1,807.7 L992.9,806.4 L996.7,805.0 L1000.5,803.7 L1004.3,802.4 L1008.0,801.1 L1011.9,799.9 L1015.7,798.6 L1019.5,797.4 L1023.3,796.2 L1027.1,795.0 L1030.9,793.8 L1034.8,792.6 L1038.6,791.5 L1042.4,790.3 L1046.3,789.2 L1050.1,788.0 L1054.0,786.9 L1057.8,785.8 L1061.7,784.7 L1065.5,783.6 L1069.4,782.5 L1073.2,781.5 L1077.1,780.4 L1081.0,779.3 L1084.8,778.3 L1088.7,777.2 L1092.6,776.2 L1096.4,775.1 L1100.3,774.1 L1104.2,773.1 L1108.1,772.1 L1111.9,771.1 L1115.8,770.1 L1119.7,769.2 L1123.6,768.2 L1127.5,767.2 L1131.4,766.3 L1135.3,765.3 L1139.2,764.4 L1143.1,763.5 L1147.0,762.6 L1150.9,761.7 L1154.8,760.8 L1158.7,759.9 L1162.6,759.0 L1166.5,758.2 L1170.4,757.3 L1174.4,756.5 L1178.3,755.7 L1182.2,754.8 L1186.1,754.0 L1190.0,753.2 L1194.0,752.4 L1197.9,751.6 L1201.8,750.8 L1205.8,750.1 L1209.7,749.3 L1213.6,748.6 L1217.6,747.8 L1221.5,747.1 L1225.4,746.4 L1229.4,745.7 L1233.3,745.0 L1237.3,744.3 L1241.2,743.6 L1245.2,743.0 L1249.1,742.3 L1253.1,741.7 L1257.1,741.1 L1261.0,740.5 L1265.0,739.9 L1268.9,739.4 L1272.9,738.8 L1276.9,738.3 L1280.9,737.8 L1284.8,737.3 L1288.8,736.9 L1292.8,736.4 L1296.8,736.0 L1300.8,735.6 L1304.8,735.1 L1308.7,734.7 L1312.7,734.4 L1316.7,734.0 L1320.7,733.6 L1324.7,733.2 L1328.7,732.9 L1332.7,732.5 L1336.7,732.2 L1340.7,731.8 L1344.7,731.5 L1348.6,731.2 L1352.6,730.8 L1356.6,730.5 L1360.6,730.2 L1364.6,729.9 L1368.6,729.6 L1372.6,729.3 L1376.6,729.0 L1380.6,728.7 L1384.6,728.4 L1388.6,728.2 L1392.6,728.0 L1396.6,727.8 L1400.6,727.6 L1404.6,727.4 L1408.6,727.3 L1412.6,727.1 L1416.6,727.0 L1420.6,726.9 L1424.6,726.8 L1428.6,726.7 L1432.6,726.6 L1436.6,726.5 L1440.6,726.4 L1444.6,726.3 L1448.7,726.2 L1452.7,726.1 L1456.7,726.0 L1460.7,726.0 L1464.7,725.9 L1468.7,725.8 L1472.7,725.7 L1476.7,725.7 L1480.7,725.6 L1484.7,725.5 L1488.7,725.4 L1492.7,725.4 L1496.7,725.3 L1500.7,725.2 L1504.7,725.1 L1508.7,725.1 L1512.7,725.0 L1516.8,724.9 L1520.8,724.8 L1524.8,724.7 L1528.8,724.6 L1532.8,724.5 L1536.8,724.4 L1540.8,724.3 L1544.8,724.2 L1548.8,724.1 L1552.8,724.1 L1556.8,724.0 L1560.8,723.9 L1564.8,723.8 L1568.8,723.7 L1572.8,723.6 L1576.8,723.6 L1580.8,723.5 L1584.8,723.5 L1588.9,723.4 L1592.9,723.4 L1596.9,723.3 L1600.9,723.3 L1604.9,723.3 L1608.9,723.3 L1612.9,723.3 L1616.9,723.3 L1620.9,723.4 L1624.9,723.4 L1628.9,723.5 L1632.9,723.5 L1636.9,723.6 L1640.9,723.6 L1644.9,723.7 L1648.9,723.8 L1652.9,723.9 L1657.0,724.0 L1661.0,724.1 L1665.0,724.2 L1669.0,724.3 L1673.0,724.4 L1677.0,724.5 L1681.0,724.7 L1685.0,724.8 L1689.0,724.9 L1693.0,725.1 L1697.0,725.2 L1701.0,725.4 L1705.0,725.5 L1709.0,725.7 L1713.0,725.8 L1717.0,726.0 L1721.0,726.2 L1725.0,726.3 L1729.0,726.5 L1733.0,726.7 L1737.0,726.9 L1741.0,727.1 L1745.0,727.3 L1749.0,727.5 L1753.0,727.8 L1757.0,728.0 L1761.0,728.2 L1765.0,728.5 L1769.0,728.7 L1773.0,729.0 L1777.0,729.3 L1781.0,729.5 L1785.0,729.8 L1789.0,730.1 L1793.0,730.4 L1797.0,730.7 L1801.0,731.0 L1805.0,731.3 L1809.0,731.7 L1812.9,732.2 L1816.9,732.8 L1820.8,733.5 L1824.7,734.3 L1828.6,735.2 L1832.4,736.3 L1836.2,737.6 L1840.0,738.9 L1843.7,740.3 L1847.4,741.9 L1851.1,743.5 L1854.7,745.2 L1858.3,747.0 L1861.8,748.9 L1865.3,750.9 L1868.7,753.0 L1872.0,755.2 L1875.3,757.5 L1878.5,759.9 L1881.6,762.3 L1884.7,764.9 L1887.7,767.5 L1890.7,770.2 L1893.6,773.0 L1896.4,775.8 L1899.2,778.6 L1902.0,781.5 L1904.7,784.5 L1907.4,787.4 L1910.0,790.4 L1912.7,793.5 L1915.3,796.5 L1917.9,799.6 L1920.4,802.6 L1923.0,805.7 L1925.5,808.8 L1928.0,811.9 L1930.6,815.1 L1933.0,818.2 L1935.5,821.4 L1937.9,824.5 L1940.3,827.7 L1942.7,831.0 L1945.0,834.3 L1947.2,837.6 L1949.4,840.9 L1951.6,844.3 L1953.7,847.7 L1955.8,851.1 L1957.8,854.6 L1959.7,858.1 L1961.6,861.6 L1963.5,865.2 L1965.3,868.7 L1967.1,872.3 L1968.8,875.9 L1970.6,879.5 L1972.4,883.1 L1974.2,886.7 L1976.0,890.2 L1977.8,893.8 L1979.7,897.4 L1981.5,900.9 L1983.4,904.5 L1985.2,908.0 L1987.0,911.6 L1988.8,915.2 L1990.6,918.8 L1992.3,922.4 L1994.0,926.0 L1995.7,929.7 L1997.3,933.3 L1998.9,937.0 L2000.5,940.7 L2002.0,944.4 L2003.5,948.1 L2005.0,951.8 L2006.5,955.5 L2007.9,959.3 L2009.3,963.0 L2010.7,966.8 L2012.1,970.5 L2013.5,974.3 L2014.9,978.0 L2016.3,981.8 L2017.6,985.6 L2019.0,989.4 L2020.3,993.1 L2021.6,996.9 L2022.9,1000.7 L2024.1,1004.5 L2025.4,1008.3 L2026.6,1012.2 L2027.8,1016.0 L2028.9,1019.8 L2030.0,1023.7 L2031.1,1027.5 L2032.2,1031.4 L2033.2,1035.2 L2034.2,1039.1 L2035.1,1043.0 L2036.0,1046.9 L2036.9,1050.8 L2037.8,1054.7 L2038.6,1058.7 L2039.4,1062.6 L2040.1,1066.5 L2040.9,1070.5 L2041.6,1074.4 L2042.3,1078.4 L2043.0,1082.3 L2043.6,1086.3 L2044.2,1090.2 L2044.8,1094.2 L2045.4,1098.1 L2045.9,1102.1 L2046.5,1106.1 L2047.0,1110.1 L2047.5,1114.0 L2048.0,1118.0" stroke="#ff8a22" stroke-width="2" stroke-dasharray="15,6,3,6" fill="none"/><path d="M722.0,727.0 L725.7,725.4 L729.4,723.8 L733.0,722.2 L736.7,720.6 L740.4,719.0 L744.1,717.4 L747.7,715.8 L751.4,714.2 L755.1,712.5 L758.7,710.9 L762.4,709.3 L766.1,707.7 L769.7,706.1 L773.4,704.4 L777.1,702.8 L780.7,701.2 L784.4,699.6 L788.1,698.0 L791.8,696.4 L795.5,694.8 L799.1,693.3 L802.8,691.7 L806.5,690.1 L810.2,688.6 L813.9,687.1 L817.7,685.6 L821.4,684.1 L825.1,682.6 L828.8,681.1 L832.6,679.7 L836.3,678.2 L840.1,676.8 L843.8,675.4 L847.6,674.0 L851.4,672.7 L855.1,671.3 L858.9,670.0 L862.7,668.7 L866.5,667.4 L870.3,666.2 L874.1,665.0 L878.0,663.8 L881.8,662.7 L885.7,661.6 L889.6,660.5 L893.4,659.5 L897.3,658.5 L901.2,657.6 L905.1,656.7 L909.0,655.8 L913.0,655.0 L916.9,654.2 L920.8,653.4 L924.7,652.6 L928.7,651.9 L932.6,651.2 L936.6,650.5 L940.5,649.8 L944.5,649.2 L948.5,648.5 L952.4,647.9 L956.4,647.3 L960.3,646.7 L964.3,646.1 L968.3,645.5 L972.2,644.9 L976.2,644.4 L980.2,643.8 L984.2,643.3 L988.1,642.8 L992.1,642.2 L996.1,641.7 L1000.1,641.2 L1004.0,640.8 L1008.0,640.3 L1012.0,639.9 L1016.0,639.5 L1020.0,639.0 L1024.0,638.6 L1028.0,638.2 L1032.0,637.9 L1036.0,637.5 L1039.9,637.2 L1043.9,636.8 L1047.9,636.5 L1051.9,636.1 L1055.9,635.8 L1059.9,635.5 L1063.9,635.2 L1067.9,634.9 L1071.9,634.6 L1075.9,634.3 L1079.9,634.0 L1083.9,633.8 L1087.9,633.5 L1091.9,633.2 L1095.9,633.0 L1099.9,632.8 L1103.9,632.5 L1107.9,632.3 L1111.9,632.1 L1115.9,632.0 L1120.0,631.8 L1124.0,631.6 L1128.0,631.5 L1132.0,631.4 L1136.0,631.2 L1140.0,631.1 L1144.0,631.0 L1148.0,630.9 L1152.0,630.8 L1156.0,630.8 L1160.0,630.7 L1164.0,630.7 L1168.0,630.6 L1172.1,630.6 L1176.1,630.6 L1180.1,630.6 L1184.1,630.6 L1188.1,630.6 L1192.1,630.6 L1196.1,630.6 L1200.1,630.6 L1204.1,630.6 L1208.1,630.6 L1212.2,630.7 L1216.2,630.7 L1220.2,630.7 L1224.2,630.8 L1228.2,630.8 L1232.2,630.8 L1236.2,630.9 L1240.2,630.9 L1244.2,630.9 L1248.2,631.0 L1252.3,631.0 L1256.3,631.1 L1260.3,631.1 L1264.3,631.2 L1268.3,631.2 L1272.3,631.3 L1276.3,631.3 L1280.3,631.4 L1284.3,631.5 L1288.3,631.5 L1292.3,631.6 L1296.4,631.7 L1300.4,631.8 L1304.4,631.8 L1308.4,631.9 L1312.4,632.0 L1316.4,632.1 L1320.4,632.2 L1324.4,632.3 L1328.4,632.4 L1332.4,632.5 L1336.4,632.6 L1340.4,632.7 L1344.5,632.8 L1348.5,632.9 L1352.5,633.0 L1356.5,633.1 L1360.5,633.2 L1364.5,633.3 L1368.5,633.4 L1372.5,633.5 L1376.5,633.7 L1380.5,633.8 L1384.5,634.0 L1388.5,634.1 L1392.5,634.3 L1396.6,634.5 L1400.6,634.7 L1404.6,634.8 L1408.6,635.0 L1412.6,635.3 L1416.6,635.5 L1420.6,635.7 L1424.6,635.9 L1428.6,636.1 L1432.6,636.4 L1436.6,636.6 L1440.6,636.8 L1444.6,637.1 L1448.6,637.3 L1452.6,637.6 L1456.6,637.8 L1460.6,638.1 L1464.6,638.3 L1468.6,638.6 L1472.6,638.8 L1476.6,639.1 L1480.6,639.3 L1484.6,639.6 L1488.6,639.8 L1492.6,640.1 L1496.6,640.3 L1500.6,640.6 L1504.6,640.8 L1508.6,641.1 L1512.6,641.3 L1516.6,641.6 L1520.6,641.8 L1524.6,642.1 L1528.6,642.4 L1532.6,642.6 L1536.6,642.9 L1540.6,643.1 L1544.6,643.4 L1548.6,643.6 L1552.6,643.9 L1556.6,644.2 L1560.6,644.4 L1564.6,644.7 L1568.6,645.0 L1572.6,645.2 L1576.6,645.5 L1580.6,645.8 L1584.6,646.0 L1588.6,646.3 L1592.6,646.6 L1596.6,646.9 L1600.6,647.2 L1604.6,647.5 L1608.6,647.8 L1612.6,648.1 L1616.6,648.3 L1620.6,648.6 L1624.6,648.9 L1628.6,649.2 L1632.6,649.5 L1636.6,649.8 L1640.6,650.1 L1644.6,650.4 L1648.6,650.7 L1652.6,651.0 L1656.6,651.3 L1660.6,651.7 L1664.6,652.0 L1668.6,652.3 L1672.6,652.6 L1676.6,652.9 L1680.6,653.3 L1684.6,653.6 L1688.6,653.9 L1692.6,654.3 L1696.6,654.6 L1700.6,655.0 L1704.6,655.4 L1708.6,655.8 L1712.6,656.2 L1716.5,656.6 L1720.5,657.0 L1724.5,657.4 L1728.5,657.9 L1732.5,658.3 L1736.5,658.8 L1740.5,659.3 L1744.4,659.7 L1748.4,660.2 L1752.4,660.7 L1756.4,661.3 L1760.3,661.8 L1764.3,662.3 L1768.3,662.9 L1772.3,663.4 L1776.2,664.0 L1780.2,664.5 L1784.2,665.1 L1788.1,665.6 L1792.1,666.2 L1796.1,666.7 L1800.1,667.3 L1804.0,667.8 L1808.0,668.3 L1812.0,668.9 L1815.9,669.6 L1819.8,670.3 L1823.7,671.2 L1827.6,672.1 L1831.5,673.2 L1835.3,674.5 L1839.0,675.9 L1842.7,677.3 L1846.4,678.9 L1850.0,680.6 L1853.6,682.5 L1857.1,684.4 L1860.5,686.4 L1863.9,688.5 L1867.2,690.8 L1870.5,693.1 L1873.6,695.6 L1876.7,698.1 L1879.8,700.7 L1882.8,703.3 L1885.7,706.0 L1888.7,708.7 L1891.6,711.5 L1894.6,714.2 L1897.6,716.9 L1900.5,719.5 L1903.5,722.2 L1906.5,724.9 L1909.5,727.6 L1912.4,730.4 L1915.2,733.2 L1918.0,736.1 L1920.7,739.0 L1923.3,742.0 L1925.9,745.1 L1928.4,748.2 L1930.8,751.4 L1933.2,754.6 L1935.4,757.9 L1937.7,761.2 L1939.9,764.6 L1942.1,767.9 L1944.3,771.2 L1946.6,774.5 L1948.9,777.8 L1951.2,781.1 L1953.5,784.4 L1955.8,787.7 L1958.0,791.0 L1960.2,794.4 L1962.4,797.8 L1964.5,801.1 L1966.6,804.6 L1968.7,808.0 L1970.7,811.4 L1972.8,814.9 L1974.8,818.4 L1976.8,821.8 L1978.7,825.3 L1980.7,828.8 L1982.7,832.3 L1984.6,835.9 L1986.4,839.4 L1988.3,843.0 L1990.1,846.6 L1991.8,850.2 L1993.5,853.8 L1995.2,857.4 L1996.9,861.1 L1998.6,864.7 L2000.2,868.4 L2001.8,872.0 L2003.4,875.7 L2005.0,879.4 L2006.6,883.1 L2008.2,886.8 L2009.7,890.5 L2011.2,894.2 L2012.8,897.9 L2014.2,901.6 L2015.7,905.3 L2017.2,909.1 L2018.6,912.8 L2020.0,916.6 L2021.4,920.3 L2022.7,924.1 L2024.1,927.9 L2025.5,931.7 L2026.8,935.4 L2028.2,939.2 L2029.6,942.9 L2031.0,946.7 L2032.3,950.5 L2033.7,954.2 L2035.1,958.0 L2036.4,961.8 L2037.7,965.6 L2039.1,969.4 L2040.3,973.2 L2041.6,977.0 L2042.8,980.8 L2044.1,984.6 L2045.3,988.4 L2046.4,992.3 L2047.6,996.1 L2048.7,1000.0 L2049.8,1003.8 L2050.8,1007.7 L2051.8,1011.6 L2052.8,1015.4 L2053.8,1019.3 L2054.7,1023.2 L2055.6,1027.1 L2056.5,1031.1 L2057.3,1035.0 L2058.1,1038.9 L2058.9,1042.8 L2059.7,1046.8 L2060.4,1050.7 L2061.2,1054.6 L2062.1,1058.6 L2062.9,1062.5 L2063.8,1066.4 L2064.6,1070.3 L2065.5,1074.2 L2066.4,1078.1 L2067.2,1082.1 L2068.1,1086.0 L2068.9,1089.9 L2069.6,1093.8 L2070.4,1097.8 L2071.1,1101.7 L2071.8,1105.7 L2072.5,1109.6 L2072.8,1111.6" stroke="#4d8bcc" stroke-width="2" stroke-dasharray="15,6,3,6" fill="none"/><path d="M722.0,727.0 L725.7,725.4 L729.4,723.8 L733.0,722.2 L736.7,720.6 L740.4,719.0 L744.0,717.4 L747.7,715.8 L751.4,714.2 L755.0,712.5 L758.7,710.9 L762.4,709.3 L766.0,707.7 L769.7,706.1 L773.4,704.4 L777.0,702.8 L780.7,701.2 L784.4,699.6 L788.1,698.0 L791.7,696.4 L795.4,694.8 L799.1,693.3 L802.8,691.7 L806.5,690.1 L810.2,688.6 L813.9,687.1 L817.6,685.6 L821.3,684.1 L825.1,682.6 L828.8,681.1 L832.5,679.7 L836.3,678.3 L840.0,676.9 L843.8,675.5 L847.5,674.1 L851.3,672.7 L855.1,671.3 L858.9,670.0 L862.6,668.7 L866.4,667.4 L870.3,666.2 L874.1,665.0 L877.9,663.8 L881.8,662.7 L885.6,661.6 L889.5,660.6 L893.4,659.5 L897.2,658.6 L901.1,657.6 L905.0,656.7 L908.9,655.9 L912.9,655.0 L916.8,654.2 L920.7,653.4 L924.7,652.7 L928.6,652.0 L932.5,651.3 L936.5,650.6 L940.4,649.9 L944.4,649.2 L948.4,648.6 L952.3,648.0 L956.3,647.4 L960.2,646.8 L964.2,646.2 L968.2,645.6 L972.1,645.0 L976.1,644.4 L980.1,643.9 L984.0,643.3 L988.0,642.8 L992.0,642.2 L996.0,641.7 L999.9,641.2 L1003.9,640.7 L1007.9,640.2 L1011.9,639.8 L1015.8,639.3 L1019.8,638.9 L1023.8,638.5 L1027.8,638.1 L1031.8,637.7 L1035.8,637.3 L1039.8,636.9 L1043.8,636.5 L1047.7,636.1 L1051.7,635.7 L1055.7,635.3 L1059.7,634.9 L1063.7,634.6 L1067.7,634.2 L1071.7,633.8 L1075.7,633.4 L1079.7,633.0 L1083.6,632.6 L1087.6,632.2 L1091.6,631.8 L1095.6,631.3 L1099.6,630.9 L1103.6,630.6 L1107.6,630.2 L1111.6,629.8 L1115.6,629.4 L1119.5,629.1 L1123.5,628.8 L1127.5,628.5 L1131.5,628.2 L1135.5,627.9 L1139.5,627.7 L1143.5,627.4 L1147.5,627.2 L1151.5,627.1 L1155.5,626.9 L1159.5,626.7 L1163.6,626.6 L1167.6,626.5 L1171.6,626.4 L1175.6,626.3 L1179.6,626.2 L1183.6,626.1 L1187.6,626.0 L1191.6,626.0 L1195.6,625.9 L1199.6,625.9 L1203.6,625.8 L1207.6,625.8 L1211.6,625.8 L1215.6,625.7 L1219.7,625.7 L1223.7,625.7 L1227.7,625.7 L1231.7,625.7 L1235.7,625.6 L1239.7,625.6 L1243.7,625.6 L1247.7,625.6 L1251.7,625.6 L1255.7,625.6 L1259.7,625.6 L1263.7,625.6 L1267.7,625.6 L1271.8,625.6 L1275.8,625.6 L1279.8,625.6 L1283.8,625.7 L1287.8,625.7 L1291.8,625.7 L1295.8,625.7 L1299.8,625.8 L1303.8,625.8 L1307.8,625.9 L1311.8,625.9 L1315.8,625.9 L1319.8,626.0 L1323.9,626.1 L1327.9,626.1 L1331.9,626.2 L1335.9,626.2 L1339.9,626.3 L1343.9,626.4 L1347.9,626.5 L1351.9,626.6 L1355.9,626.7 L1359.9,626.8 L1363.9,626.9 L1367.9,627.1 L1371.9,627.2 L1375.9,627.4 L1379.9,627.6 L1383.9,627.7 L1388.0,627.9 L1392.0,628.1 L1396.0,628.3 L1400.0,628.5 L1404.0,628.7 L1408.0,628.9 L1412.0,629.1 L1416.0,629.3 L1420.0,629.5 L1424.0,629.6 L1428.0,629.8 L1432.0,630.0 L1436.0,630.2 L1440.0,630.4 L1444.0,630.6 L1448.0,630.8 L1452.0,631.0 L1456.0,631.2 L1460.0,631.4 L1464.0,631.6 L1468.0,631.8 L1472.0,632.0 L1476.0,632.2 L1480.0,632.4 L1484.0,632.6 L1488.0,632.8 L1492.0,633.0 L1496.0,633.2 L1500.0,633.4 L1504.0,633.6 L1508.0,633.8 L1512.0,634.0 L1516.0,634.2 L1520.1,634.4 L1524.1,634.6 L1528.1,634.8 L1532.1,635.0 L1536.1,635.2 L1540.1,635.4 L1544.1,635.6 L1548.1,635.8 L1552.1,636.0 L1556.1,636.1 L1560.1,636.3 L1564.1,636.5 L1568.1,636.7 L1572.1,636.9 L1576.1,637.1 L1580.1,637.3 L1584.1,637.5 L1588.1,637.7 L1592.1,638.0 L1596.1,638.2 L1600.1,638.4 L1604.1,638.6 L1608.1,638.8 L1612.1,639.1 L1616.1,639.3 L1620.1,639.5 L1624.1,639.7 L1628.1,640.0 L1632.1,640.2 L1636.1,640.4 L1640.1,640.7 L1644.1,640.9 L1648.1,641.1 L1652.1,641.4 L1656.1,641.6 L1660.1,641.9 L1664.1,642.1 L1668.1,642.4 L1672.1,642.6 L1676.1,642.9 L1680.1,643.1 L1684.1,643.4 L1688.1,643.7 L1692.1,644.0 L1696.1,644.3 L1700.1,644.6 L1704.1,644.9 L1708.1,645.2 L1712.1,645.6 L1716.1,645.9 L1720.1,646.3 L1724.1,646.7 L1728.1,647.1 L1732.0,647.5 L1736.0,647.9 L1740.0,648.4 L1744.0,648.9 L1748.0,649.3 L1751.9,649.8 L1755.9,650.3 L1759.9,650.9 L1763.9,651.4 L1767.8,651.9 L1771.8,652.4 L1775.8,652.9 L1779.8,653.5 L1783.7,654.0 L1787.7,654.4 L1791.7,654.9 L1795.7,655.3 L1799.7,655.7 L1803.7,656.0 L1807.6,656.4 L1811.6,656.8 L1815.6,657.3 L1819.5,657.9 L1823.4,658.6 L1827.3,659.6 L1831.2,660.6 L1835.0,661.8 L1838.8,663.1 L1842.5,664.5 L1846.2,665.9 L1850.0,667.4 L1853.6,669.0 L1857.3,670.7 L1860.9,672.4 L1864.4,674.3 L1867.9,676.2 L1871.4,678.2 L1874.8,680.3 L1878.1,682.6 L1881.4,684.9 L1884.6,687.3 L1887.7,689.8 L1890.7,692.4 L1893.7,695.0 L1896.6,697.8 L1899.4,700.6 L1902.2,703.5 L1905.0,706.4 L1907.7,709.3 L1910.4,712.3 L1913.1,715.2 L1915.8,718.2 L1918.5,721.1 L1921.3,724.1 L1924.0,727.0 L1926.8,729.9 L1929.6,732.8 L1932.3,735.6 L1935.1,738.5 L1937.9,741.4 L1940.7,744.3 L1943.4,747.2 L1946.0,750.2 L1948.6,753.3 L1951.1,756.4 L1953.5,759.6 L1955.9,762.8 L1958.2,766.1 L1960.5,769.4 L1962.7,772.7 L1964.9,776.1 L1967.1,779.4 L1969.2,782.8 L1971.3,786.3 L1973.4,789.7 L1975.5,793.1 L1977.7,796.5 L1979.8,799.8 L1982.0,803.2 L1984.2,806.5 L1986.4,809.9 L1988.6,813.2 L1990.8,816.6 L1993.0,819.9 L1995.2,823.3 L1997.4,826.7 L1999.5,830.1 L2001.6,833.5 L2003.6,836.9 L2005.6,840.4 L2007.5,843.9 L2009.4,847.5 L2011.2,851.0 L2013.0,854.6 L2014.7,858.2 L2016.4,861.9 L2018.1,865.5 L2019.8,869.1 L2021.5,872.8 L2023.2,876.4 L2024.8,880.0 L2026.5,883.7 L2028.2,887.3 L2029.9,891.0 L2031.6,894.6 L2033.2,898.2 L2034.9,901.9 L2036.5,905.6 L2038.1,909.2 L2039.7,912.9 L2041.3,916.6 L2042.9,920.3 L2044.5,923.9 L2046.0,927.6 L2047.6,931.3 L2049.1,935.0 L2050.6,938.8 L2052.1,942.5 L2053.6,946.2 L2055.1,949.9 L2056.6,953.6 L2058.1,957.3 L2059.7,961.0 L2061.2,964.7 L2062.8,968.4 L2064.3,972.1 L2065.8,975.8 L2067.3,979.6 L2068.7,983.3 L2070.1,987.0 L2071.5,990.8" stroke="#ff9533" stroke-width="2" stroke-dasharray="15,6,3,6" stroke-dashoffset="12" fill="none"/><path d="M843.1,603.6 L846.8,602.1 L850.5,600.6 L854.2,599.1 L857.9,597.5 L861.6,596.0 L865.3,594.5 L869.0,592.9 L872.8,591.4 L876.5,589.9 L880.2,588.3 L883.9,586.8 L887.6,585.3 L891.3,583.8 L895.0,582.2 L898.7,580.7 L902.4,579.3 L906.1,577.8 L909.9,576.3 L913.6,574.9 L917.3,573.4 L921.1,572.0 L924.9,570.6 L928.6,569.3 L932.4,567.9 L936.2,566.6 L940.0,565.3 L943.8,564.0 L947.6,562.7 L951.4,561.5 L955.2,560.3 L959.0,559.0 L962.8,557.9 L966.7,556.7 L970.5,555.6 L974.4,554.5 L978.2,553.4 L982.1,552.4 L986.0,551.4 L989.9,550.4 L993.8,549.5 L997.7,548.6 L1001.6,547.8 L1005.5,547.1 L1009.5,546.3 L1013.4,545.7 L1017.4,545.0 L1021.3,544.4 L1025.3,543.9 L1029.3,543.3 L1033.2,542.9 L1037.2,542.4 L1041.2,541.9 L1045.2,541.5 L1049.2,541.1 L1053.2,540.7 L1057.2,540.3 L1061.1,540.0 L1065.1,539.6 L1069.1,539.2 L1073.1,538.9 L1077.1,538.5 L1081.1,538.2 L1085.1,537.8 L1089.1,537.5 L1093.1,537.2 L1097.1,536.9 L1101.1,536.6 L1105.1,536.3 L1109.1,536.0 L1113.1,535.7 L1117.1,535.5 L1121.1,535.2 L1125.1,535.0 L1129.1,534.8 L1133.1,534.6 L1137.1,534.4 L1141.1,534.3 L1145.1,534.1 L1149.1,534.0 L1153.1,533.9 L1157.1,533.8 L1161.1,533.8 L1165.1,533.7 L1169.1,533.7 L1173.1,533.7 L1177.1,533.7 L1181.1,533.8 L1185.1,533.9 L1189.1,534.0 L1193.2,534.1 L1197.2,534.2 L1201.2,534.3 L1205.2,534.5 L1209.2,534.6 L1213.2,534.8 L1217.2,534.9 L1221.2,535.1 L1225.2,535.3 L1229.2,535.5 L1233.2,535.7 L1237.2,535.9 L1241.2,536.1 L1245.2,536.2 L1249.2,536.4 L1253.2,536.6 L1257.2,536.8 L1261.2,537.0 L1265.2,537.2 L1269.2,537.4 L1273.2,537.6 L1277.2,537.8 L1281.2,538.0 L1285.2,538.2 L1289.2,538.4 L1293.2,538.6 L1297.2,538.9 L1301.2,539.2 L1305.2,539.5 L1309.2,539.8 L1313.2,540.1 L1317.2,540.4 L1321.2,540.8 L1325.2,541.2 L1329.2,541.6 L1333.1,542.1 L1337.1,542.6 L1341.1,543.1 L1345.1,543.6 L1349.0,544.1 L1353.0,544.7 L1357.0,545.2 L1360.9,545.8 L1364.9,546.4 L1368.9,546.9 L1372.8,547.5 L1376.8,548.0 L1380.8,548.6 L1384.8,549.1 L1388.7,549.6 L1392.7,550.1 L1396.7,550.6 L1400.7,551.0 L1404.7,551.4 L1408.6,551.9 L1412.6,552.3 L1416.6,552.6 L1420.6,553.0 L1424.6,553.4 L1428.6,553.7 L1432.6,554.1 L1436.6,554.4 L1440.6,554.7 L1444.6,555.1 L1448.6,555.4 L1452.5,555.7 L1456.5,556.0 L1460.5,556.4 L1464.5,556.7 L1468.5,557.0 L1472.5,557.4 L1476.5,557.7 L1480.5,558.0 L1484.5,558.4 L1488.5,558.7 L1492.5,559.1 L1496.5,559.5 L1500.5,559.9 L1504.4,560.2 L1508.4,560.6 L1512.4,561.1 L1516.4,561.5 L1520.4,561.9 L1524.4,562.3 L1528.4,562.8 L1532.3,563.2 L1536.3,563.7 L1540.3,564.1 L1544.3,564.6 L1548.3,565.1 L1552.2,565.5 L1556.2,566.0 L1560.2,566.5 L1564.2,566.9 L1568.2,567.4 L1572.1,567.9 L1576.1,568.4 L1580.1,568.9 L1584.1,569.3 L1588.0,569.8 L1592.0,570.3 L1596.0,570.8 L1600.0,571.3 L1604.0,571.7 L1607.9,572.2 L1611.9,572.7 L1615.9,573.1 L1619.9,573.6 L1623.9,574.1 L1627.8,574.5 L1631.8,575.0 L1635.8,575.4 L1639.8,575.9 L1643.8,576.3 L1647.7,576.8 L1651.7,577.2 L1655.7,577.7 L1659.7,578.1 L1663.7,578.6 L1667.7,579.0 L1671.6,579.5 L1675.6,580.0 L1679.6,580.4 L1683.6,580.9 L1687.6,581.3 L1691.5,581.8 L1695.5,582.3 L1699.5,582.8 L1703.5,583.2 L1707.5,583.7 L1711.4,584.2 L1715.4,584.7 L1719.4,585.2 L1723.4,585.7 L1727.3,586.2 L1731.3,586.7 L1735.3,587.2 L1739.3,587.7 L1743.2,588.2 L1747.2,588.7 L1751.2,589.2 L1755.2,589.7 L1759.1,590.2 L1763.1,590.7 L1767.1,591.3 L1771.1,591.8 L1775.0,592.4 L1779.0,592.9 L1783.0,593.5 L1786.9,594.1 L1790.9,594.7 L1794.8,595.4 L1798.8,596.1 L1802.7,596.8 L1806.7,597.6 L1810.6,598.4 L1814.5,599.2 L1818.4,600.1 L1822.3,601.1 L1826.1,602.2 L1830.0,603.3 L1833.8,604.5 L1837.6,605.8 L1841.3,607.2 L1845.0,608.7 L1848.6,610.4 L1852.2,612.1 L1855.8,614.0 L1859.3,615.9 L1862.7,618.0 L1866.1,620.1 L1869.4,622.3 L1872.8,624.5 L1876.1,626.7 L1879.4,629.0 L1882.7,631.3 L1886.0,633.6 L1889.2,636.0 L1892.3,638.5 L1895.4,641.0 L1898.4,643.7 L1901.3,646.4 L1904.1,649.2 L1907.0,652.0 L1909.8,654.9 L1912.5,657.8 L1915.3,660.7 L1918.1,663.6 L1920.8,666.5 L1923.5,669.4 L1926.2,672.4 L1928.9,675.4 L1931.6,678.4 L1934.2,681.4 L1936.9,684.4 L1939.5,687.5 L1942.0,690.5 L1944.5,693.7 L1947.0,696.8 L1949.4,700.0 L1951.8,703.2 L1954.1,706.5 L1956.4,709.8 L1958.6,713.1 L1960.9,716.4 L1963.1,719.8 L1965.3,723.1 L1967.6,726.4 L1969.9,729.7 L1972.2,733.0 L1974.5,736.3 L1976.7,739.5 L1979.0,742.8 L1981.3,746.2 L1983.5,749.5 L1985.6,752.9 L1987.8,756.3 L1989.9,759.7 L1991.9,763.1 L1994.0,766.5 L1996.0,770.0 L1998.0,773.5 L2000.0,776.9 L2002.0,780.4 L2003.9,783.9 L2005.9,787.4 L2007.8,790.9 L2009.7,794.5 L2011.6,798.0 L2013.5,801.6 L2015.3,805.1 L2017.1,808.7 L2018.9,812.3 L2020.7,815.8 L2022.5,819.4 L2024.3,823.0 L2026.2,826.5 L2028.1,830.1 L2029.9,833.6 L2031.9,837.1 L2033.8,840.7 L2035.7,844.2 L2037.6,847.7 L2039.4,851.3 L2041.2,854.8 L2043.0,858.4 L2044.8,862.0 L2046.5,865.6 L2048.3,869.2 L2049.9,872.9 L2051.6,876.5 L2053.2,880.2 L2054.8,883.9 L2056.3,887.6 L2057.8,891.3 L2059.2,895.0 L2060.7,898.8 L2062.2,902.5 L2063.8,906.2 L2065.4,909.8 L2067.1,913.4 L2068.9,917.0 L2070.8,920.5" stroke="#6199d4" stroke-width="2" stroke-dasharray="15,6,3,6" fill="none"/><path d="M857.4,607.2 L861.1,605.7 L864.8,604.1 L868.5,602.6 L872.2,601.1 L875.9,599.5 L879.6,598.0 L883.3,596.4 L887.0,594.8 L890.7,593.3 L894.4,591.7 L898.1,590.1 L901.8,588.6 L905.5,587.0 L909.2,585.5 L912.9,584.0 L916.6,582.4 L920.3,580.9 L924.0,579.4 L927.8,578.0 L931.5,576.5 L935.2,575.1 L939.0,573.7 L942.8,572.4 L946.6,571.0 L950.4,569.8 L954.2,568.5 L958.0,567.3 L961.8,566.2 L965.7,565.1 L969.6,564.0 L973.4,563.0 L977.3,562.1 L981.2,561.1 L985.1,560.2 L989.0,559.3 L993.0,558.5 L996.9,557.6 L1000.8,556.8 L1004.7,555.9 L1008.6,555.1 L1012.6,554.3 L1016.5,553.5 L1020.4,552.8 L1024.4,552.0 L1028.3,551.3 L1032.3,550.6 L1036.2,549.9 L1040.2,549.2 L1044.1,548.5 L1048.1,547.9 L1052.0,547.2 L1056.0,546.6 L1060.0,546.1 L1063.9,545.5 L1067.9,544.9 L1071.9,544.4 L1075.9,543.9 L1079.8,543.5 L1083.8,543.0 L1087.8,542.6 L1091.8,542.1 L1095.8,541.7 L1099.8,541.3 L1103.8,541.0 L1107.8,540.6 L1111.8,540.3 L1115.8,539.9 L1119.8,539.6 L1123.7,539.3 L1127.7,539.1 L1131.7,538.8 L1135.8,538.5 L1139.8,538.3 L1143.8,538.1 L1147.8,537.9 L1151.8,537.7 L1155.8,537.5 L1159.8,537.3 L1163.8,537.1 L1167.8,537.0 L1171.8,536.9 L1175.8,536.8 L1179.8,536.7 L1183.8,536.6 L1187.8,536.6 L1191.8,536.5 L1195.9,536.5 L1199.9,536.5 L1203.9,536.5 L1207.9,536.5 L1211.9,536.5 L1215.9,536.5 L1219.9,536.6 L1223.9,536.6 L1227.9,536.7 L1231.9,536.8 L1235.9,536.8 L1240.0,536.9 L1244.0,537.0 L1248.0,537.2 L1252.0,537.3 L1256.0,537.4 L1260.0,537.6 L1264.0,537.7 L1268.0,537.9 L1272.0,538.1 L1276.0,538.3 L1280.0,538.5 L1284.0,538.8 L1288.0,539.0 L1292.0,539.3 L1296.0,539.5 L1300.0,539.8 L1304.0,540.1 L1308.0,540.4 L1312.0,540.7 L1316.0,541.0 L1320.0,541.4 L1324.0,541.7 L1328.0,542.1 L1332.0,542.5 L1336.0,542.9 L1340.0,543.3 L1344.0,543.7 L1347.9,544.2 L1351.9,544.6 L1355.9,545.1 L1359.9,545.5 L1363.9,546.0 L1367.9,546.4 L1371.8,546.9 L1375.8,547.3 L1379.8,547.8 L1383.8,548.2 L1387.8,548.6 L1391.8,549.0 L1395.8,549.4 L1399.8,549.7 L1403.8,550.1 L1407.8,550.4 L1411.8,550.7 L1415.8,551.0 L1419.8,551.2 L1423.8,551.5 L1427.8,551.8 L1431.8,552.0 L1435.8,552.2 L1439.8,552.5 L1443.8,552.7 L1447.8,552.9 L1451.8,553.1 L1455.8,553.4 L1459.8,553.6 L1463.8,553.8 L1467.8,554.1 L1471.8,554.3 L1475.8,554.6 L1479.8,554.8 L1483.8,555.1 L1487.8,555.4 L1491.8,555.7 L1495.8,556.0 L1499.8,556.3 L1503.8,556.6 L1507.8,557.0 L1511.8,557.4 L1515.8,557.8 L1519.7,558.2 L1523.7,558.6 L1527.7,559.0 L1531.7,559.4 L1535.7,559.9 L1539.7,560.3 L1543.7,560.8 L1547.6,561.3 L1551.6,561.8 L1555.6,562.3 L1559.6,562.7 L1563.6,563.2 L1567.5,563.7 L1571.5,564.2 L1575.5,564.7 L1579.5,565.2 L1583.5,565.7 L1587.4,566.2 L1591.4,566.7 L1595.4,567.2 L1599.4,567.6 L1603.4,568.1 L1607.3,568.6 L1611.3,569.0 L1615.3,569.4 L1619.3,569.9 L1623.3,570.3 L1627.3,570.7 L1631.3,571.1 L1635.3,571.5 L1639.2,572.0 L1643.2,572.4 L1647.2,572.8 L1651.2,573.2 L1655.2,573.6 L1659.2,573.9 L1663.2,574.3 L1667.2,574.7 L1671.2,575.1 L1675.2,575.5 L1679.1,575.9 L1683.1,576.3 L1687.1,576.7 L1691.1,577.1 L1695.1,577.5 L1699.1,577.9 L1703.1,578.3 L1707.1,578.7 L1711.1,579.1 L1715.1,579.5 L1719.0,579.9 L1723.0,580.3 L1727.0,580.7 L1731.0,581.1 L1735.0,581.6 L1739.0,582.0 L1743.0,582.4 L1747.0,582.8 L1750.9,583.2 L1754.9,583.7 L1758.9,584.1 L1762.9,584.5 L1766.9,585.0 L1770.9,585.4 L1774.9,585.8 L1778.8,586.3 L1782.8,586.7 L1786.8,587.2 L1790.8,587.7 L1794.8,588.2 L1798.8,588.7 L1802.7,589.2 L1806.7,589.7 L1810.7,590.3 L1814.6,590.9 L1818.6,591.6 L1822.5,592.3 L1826.4,593.2 L1830.3,594.3 L1834.1,595.4 L1837.9,596.7 L1841.6,598.0 L1845.4,599.5 L1849.0,601.1 L1852.7,602.8 L1856.2,604.5 L1859.8,606.4 L1863.3,608.3 L1866.8,610.4 L1870.2,612.4 L1873.6,614.5 L1877.0,616.7 L1880.3,618.9 L1883.6,621.2 L1886.9,623.5 L1890.1,625.9 L1893.2,628.3 L1896.3,630.9 L1899.3,633.5 L1902.3,636.2 L1905.3,638.9 L1908.2,641.6 L1911.2,644.3 L1914.1,647.0 L1917.1,649.7 L1920.2,652.3 L1923.2,655.0 L1926.2,657.6 L1929.1,660.3 L1932.0,663.1 L1934.8,666.0 L1937.5,668.9 L1940.1,672.0 L1942.6,675.0 L1945.1,678.2 L1947.6,681.3 L1950.1,684.4 L1952.6,687.5 L1955.2,690.6 L1957.8,693.7 L1960.4,696.8 L1962.9,699.8 L1965.5,702.9 L1968.1,706.0 L1970.6,709.1 L1973.1,712.2 L1975.6,715.4 L1978.0,718.6 L1980.4,721.8 L1982.8,725.0 L1985.1,728.3 L1987.4,731.6 L1989.6,734.9 L1991.8,738.2 L1994.0,741.6 L1996.2,745.0 L1998.3,748.4 L2000.5,751.8 L2002.6,755.1 L2004.8,758.5 L2006.9,761.9 L2009.1,765.3 L2011.2,768.7 L2013.3,772.1 L2015.5,775.5 L2017.6,778.9 L2019.7,782.3 L2021.8,785.7 L2023.9,789.1 L2026.0,792.5 L2028.1,796.0 L2030.2,799.4 L2032.2,802.9 L2034.2,806.3 L2036.2,809.8 L2038.1,813.3 L2040.0,816.8 L2042.0,820.4 L2043.9,823.9 L2045.9,827.4 L2047.9,830.8 L2049.9,834.3 L2051.9,837.8 L2053.9,841.2 L2055.9,844.7 L2057.9,848.2 L2059.9,851.6 L2061.9,855.1 L2064.0,858.5 L2066.1,861.9 L2068.3,865.2 L2070.5,868.5" stroke="#ffa24c" stroke-width="2" stroke-dasharray="15,6,3,6" fill="none"/><path d="M921.8,528.5 L925.4,526.7 L929.0,524.9 L932.6,523.1 L936.1,521.3 L939.7,519.5 L943.3,517.6 L946.8,515.8 L950.4,513.9 L954.0,512.1 L957.5,510.2 L961.1,508.4 L964.7,506.6 L968.3,504.8 L971.9,503.1 L975.5,501.4 L979.1,499.7 L982.8,498.0 L986.5,496.5 L990.2,494.9 L993.9,493.5 L997.7,492.1 L1001.5,490.7 L1005.3,489.5 L1009.1,488.3 L1012.9,487.1 L1016.8,486.1 L1020.7,485.0 L1024.6,484.1 L1028.5,483.2 L1032.4,482.3 L1036.3,481.5 L1040.2,480.7 L1044.2,479.9 L1048.1,479.1 L1052.1,478.4 L1056.0,477.7 L1060.0,477.0 L1063.9,476.3 L1067.9,475.7 L1071.8,475.0 L1075.8,474.3 L1079.7,473.7 L1083.7,473.0 L1087.7,472.4 L1091.6,471.8 L1095.6,471.2 L1099.6,470.6 L1103.5,470.1 L1107.5,469.5 L1111.5,469.0 L1115.5,468.5 L1119.5,468.0 L1123.4,467.5 L1127.4,467.1 L1131.4,466.6 L1135.4,466.2 L1139.4,465.8 L1143.4,465.4 L1147.4,465.1 L1151.4,464.7 L1155.4,464.4 L1159.4,464.1 L1163.4,463.9 L1167.4,463.6 L1171.4,463.4 L1175.4,463.2 L1179.4,463.0 L1183.4,462.9 L1187.4,462.7 L1191.4,462.6 L1195.4,462.5 L1199.5,462.4 L1203.5,462.4 L1207.5,462.3 L1211.5,462.3 L1215.5,462.3 L1219.5,462.3 L1223.5,462.3 L1227.5,462.4 L1231.5,462.4 L1235.6,462.5 L1239.6,462.6 L1243.6,462.6 L1247.6,462.7 L1251.6,462.9 L1255.6,463.0 L1259.6,463.1 L1263.6,463.3 L1267.6,463.5 L1271.6,463.7 L1275.6,463.9 L1279.6,464.2 L1283.7,464.4 L1287.7,464.7 L1291.7,465.0 L1295.7,465.3 L1299.7,465.7 L1303.6,466.0 L1307.6,466.4 L1311.6,466.8 L1315.6,467.2 L1319.6,467.6 L1323.6,468.1 L1327.6,468.6 L1331.6,469.0 L1335.5,469.5 L1339.5,470.1 L1343.5,470.6 L1347.5,471.1 L1351.5,471.6 L1355.4,472.2 L1359.4,472.7 L1363.4,473.3 L1367.3,473.9 L1371.3,474.4 L1375.3,475.0 L1379.3,475.6 L1383.2,476.1 L1387.2,476.7 L1391.2,477.3 L1395.2,477.8 L1399.1,478.4 L1403.1,478.9 L1407.1,479.5 L1411.0,480.1 L1415.0,480.6 L1419.0,481.2 L1423.0,481.8 L1426.9,482.4 L1430.9,483.0 L1434.9,483.6 L1438.8,484.2 L1442.8,484.8 L1446.8,485.3 L1450.7,485.9 L1454.7,486.5 L1458.7,487.1 L1462.6,487.7 L1466.6,488.3 L1470.6,488.9 L1474.5,489.5 L1478.5,490.1 L1482.5,490.7 L1486.4,491.3 L1490.4,491.9 L1494.4,492.4 L1498.3,493.0 L1502.3,493.6 L1506.3,494.1 L1510.3,494.7 L1514.2,495.3 L1518.2,495.8 L1522.2,496.4 L1526.2,496.9 L1530.1,497.5 L1534.1,498.0 L1538.1,498.6 L1542.1,499.1 L1546.0,499.6 L1550.0,500.2 L1554.0,500.7 L1558.0,501.2 L1561.9,501.8 L1565.9,502.3 L1569.9,502.8 L1573.9,503.4 L1577.8,503.9 L1581.8,504.4 L1585.8,504.9 L1589.8,505.4 L1593.8,505.9 L1597.7,506.4 L1601.7,507.0 L1605.7,507.5 L1609.7,508.0 L1613.7,508.4 L1617.6,508.9 L1621.6,509.4 L1625.6,509.9 L1629.6,510.3 L1633.6,510.8 L1637.6,511.2 L1641.6,511.7 L1645.5,512.1 L1649.5,512.5 L1653.5,513.0 L1657.5,513.4 L1661.5,513.8 L1665.5,514.3 L1669.5,514.7 L1673.5,515.1 L1677.5,515.5 L1681.4,516.0 L1685.4,516.4 L1689.4,516.9 L1693.4,517.4 L1697.4,517.8 L1701.4,518.3 L1705.4,518.8 L1709.3,519.4 L1713.3,519.9 L1717.3,520.5 L1721.2,521.1 L1725.2,521.7 L1729.2,522.3 L1733.1,523.0 L1737.1,523.7 L1741.0,524.4 L1744.9,525.2 L1748.9,526.0 L1752.8,526.7 L1756.8,527.5 L1760.7,528.3 L1764.6,529.1 L1768.5,529.9 L1772.5,530.7 L1776.4,531.5 L1780.4,532.3 L1784.3,533.0 L1788.2,533.7 L1792.2,534.4 L1796.1,535.1 L1800.1,535.8 L1804.0,536.5 L1808.0,537.2 L1811.9,538.0 L1815.9,538.8 L1819.8,539.6 L1823.7,540.6 L1827.5,541.6 L1831.4,542.7 L1835.2,543.9 L1839.0,545.2 L1842.8,546.5 L1846.5,547.9 L1850.3,549.4 L1853.9,551.0 L1857.6,552.6 L1861.2,554.3 L1864.8,556.1 L1868.4,558.0 L1871.8,560.0 L1875.3,562.0 L1878.6,564.2 L1881.9,566.5 L1885.0,568.9 L1888.1,571.5 L1891.2,574.1 L1894.1,576.8 L1897.1,579.5 L1900.0,582.2 L1903.0,584.9 L1905.9,587.6 L1908.9,590.3 L1911.9,592.9 L1914.9,595.6 L1917.9,598.3 L1920.9,601.0 L1923.8,603.7 L1926.7,606.5 L1929.5,609.4 L1932.2,612.3 L1934.9,615.3 L1937.6,618.3 L1940.2,621.3 L1942.9,624.3 L1945.4,627.4 L1948.0,630.5 L1950.5,633.6 L1953.0,636.7 L1955.5,639.9 L1957.9,643.1 L1960.3,646.3 L1962.7,649.5 L1965.1,652.7 L1967.5,656.0 L1969.8,659.2 L1972.2,662.5 L1974.5,665.7 L1976.9,669.0 L1979.2,672.3 L1981.5,675.5 L1983.8,678.8 L1986.2,682.1 L1988.5,685.3 L1990.8,688.6 L1993.1,691.9 L1995.3,695.2 L1997.6,698.6 L1999.8,701.9 L2002.0,705.3 L2004.1,708.7 L2006.2,712.1 L2008.3,715.5 L2010.3,719.0 L2012.4,722.4 L2014.4,725.9 L2016.5,729.3 L2018.5,732.7 L2020.7,736.1 L2022.8,739.5 L2025.0,742.9 L2027.2,746.2 L2029.4,749.6 L2031.6,752.9 L2033.8,756.3 L2036.0,759.7 L2038.1,763.1 L2040.2,766.5 L2042.3,769.9 L2044.3,773.4 L2046.3,776.9 L2048.3,780.4 L2050.2,783.9 L2052.1,787.4 L2053.9,791.0 L2055.7,794.6 L2057.5,798.1 L2059.3,801.7 L2061.2,805.3 L2063.0,808.8 L2064.9,812.4 L2066.9,815.9 L2068.8,819.4" stroke="#7aaadb" stroke-width="2" stroke-dasharray="15,6,3,6" fill="none"/><path d="M932.6,541.0 L936.1,539.1 L939.6,537.1 L943.1,535.2 L946.6,533.2 L950.1,531.2 L953.6,529.2 L957.1,527.3 L960.6,525.3 L964.1,523.3 L967.6,521.3 L971.1,519.4 L974.6,517.5 L978.2,515.6 L981.7,513.8 L985.3,512.1 L989.0,510.3 L992.6,508.7 L996.3,507.1 L1000.0,505.6 L1003.7,504.1 L1007.5,502.7 L1011.2,501.3 L1015.0,500.1 L1018.9,498.8 L1022.7,497.6 L1026.5,496.5 L1030.4,495.4 L1034.3,494.4 L1038.1,493.4 L1042.0,492.4 L1045.9,491.4 L1049.8,490.5 L1053.7,489.6 L1057.7,488.7 L1061.6,487.9 L1065.5,487.0 L1069.4,486.2 L1073.4,485.4 L1077.3,484.6 L1081.2,483.9 L1085.2,483.1 L1089.1,482.4 L1093.1,481.7 L1097.0,481.0 L1101.0,480.4 L1104.9,479.7 L1108.9,479.1 L1112.9,478.5 L1116.8,478.0 L1120.8,477.4 L1124.8,476.9 L1128.8,476.4 L1132.7,475.9 L1136.7,475.4 L1140.7,474.9 L1144.7,474.5 L1148.7,474.0 L1152.7,473.6 L1156.7,473.2 L1160.7,472.9 L1164.7,472.5 L1168.7,472.2 L1172.7,471.9 L1176.7,471.6 L1180.7,471.3 L1184.7,471.1 L1188.7,470.9 L1192.7,470.7 L1196.7,470.5 L1200.7,470.4 L1204.7,470.2 L1208.7,470.1 L1212.7,470.0 L1216.7,469.9 L1220.7,469.8 L1224.8,469.7 L1228.8,469.7 L1232.8,469.6 L1236.8,469.6 L1240.8,469.6 L1244.8,469.6 L1248.8,469.6 L1252.8,469.6 L1256.8,469.6 L1260.9,469.7 L1264.9,469.8 L1268.9,469.8 L1272.9,470.0 L1276.9,470.1 L1280.9,470.2 L1284.9,470.4 L1288.9,470.6 L1292.9,470.8 L1296.9,471.0 L1300.9,471.3 L1304.9,471.5 L1308.9,471.8 L1312.9,472.1 L1316.9,472.5 L1320.9,472.8 L1324.9,473.2 L1328.9,473.6 L1332.9,474.0 L1336.9,474.4 L1340.9,474.8 L1344.9,475.3 L1348.9,475.7 L1352.8,476.2 L1356.8,476.7 L1360.8,477.1 L1364.8,477.6 L1368.8,478.1 L1372.8,478.6 L1376.7,479.1 L1380.7,479.5 L1384.7,480.0 L1388.7,480.5 L1392.7,480.9 L1396.7,481.4 L1400.6,481.9 L1404.6,482.3 L1408.6,482.8 L1412.6,483.2 L1416.6,483.7 L1420.6,484.1 L1424.6,484.6 L1428.5,485.0 L1432.5,485.5 L1436.5,485.9 L1440.5,486.4 L1444.5,486.8 L1448.5,487.3 L1452.5,487.8 L1456.4,488.2 L1460.4,488.7 L1464.4,489.1 L1468.4,489.6 L1472.4,490.1 L1476.4,490.5 L1480.4,491.0 L1484.3,491.5 L1488.3,492.0 L1492.3,492.5 L1496.3,492.9 L1500.3,493.4 L1504.2,493.9 L1508.2,494.4 L1512.2,494.9 L1516.2,495.4 L1520.2,496.0 L1524.1,496.5 L1528.1,497.0 L1532.1,497.5 L1536.1,498.1 L1540.0,498.6 L1544.0,499.1 L1548.0,499.7 L1552.0,500.2 L1555.9,500.8 L1559.9,501.3 L1563.9,501.8 L1567.9,502.4 L1571.8,502.9 L1575.8,503.5 L1579.8,504.0 L1583.8,504.5 L1587.7,505.1 L1591.7,505.6 L1595.7,506.1 L1599.7,506.7 L1603.7,507.2 L1607.6,507.7 L1611.6,508.2 L1615.6,508.7 L1619.6,509.2 L1623.6,509.7 L1627.5,510.2 L1631.5,510.6 L1635.5,511.1 L1639.5,511.6 L1643.5,512.1 L1647.5,512.5 L1651.4,513.0 L1655.4,513.4 L1659.4,513.9 L1663.4,514.4 L1667.4,514.8 L1671.4,515.3 L1675.4,515.7 L1679.3,516.2 L1683.3,516.6 L1687.3,517.1 L1691.3,517.5 L1695.3,518.0 L1699.3,518.4 L1703.3,518.9 L1707.2,519.4 L1711.2,519.8 L1715.2,520.3 L1719.2,520.8 L1723.2,521.2 L1727.2,521.7 L1731.1,522.2 L1735.1,522.6 L1739.1,523.1 L1743.1,523.5 L1747.1,524.0 L1751.1,524.5 L1755.1,524.9 L1759.0,525.4 L1763.0,525.9 L1767.0,526.5 L1771.0,527.0 L1774.9,527.6 L1778.9,528.2 L1782.9,528.8 L1786.8,529.4 L1790.8,530.0 L1794.8,530.7 L1798.7,531.3 L1802.7,532.0 L1806.6,532.8 L1810.5,533.5 L1814.5,534.3 L1818.4,535.2 L1822.3,536.1 L1826.2,537.1 L1830.0,538.2 L1833.9,539.3 L1837.7,540.5 L1841.5,541.7 L1845.3,543.0 L1849.1,544.4 L1852.8,545.8 L1856.6,547.3 L1860.3,548.8 L1863.9,550.4 L1867.6,552.0 L1871.2,553.7 L1874.8,555.5 L1878.3,557.4 L1881.8,559.4 L1885.2,561.5 L1888.6,563.7 L1891.8,566.0 L1895.0,568.4 L1898.1,570.9 L1901.1,573.5 L1904.1,576.2 L1907.1,578.8 L1910.1,581.5 L1913.1,584.2 L1916.2,586.8 L1919.2,589.4 L1922.2,592.1 L1925.2,594.8 L1928.1,597.5 L1931.0,600.3 L1933.9,603.1 L1936.7,605.9 L1939.4,608.8 L1942.2,611.8 L1944.8,614.8 L1947.5,617.7 L1950.2,620.7 L1952.8,623.8 L1955.5,626.8 L1958.1,629.8 L1960.7,632.9 L1963.3,635.9 L1965.9,639.0 L1968.4,642.1 L1971.0,645.2 L1973.5,648.3 L1975.9,651.5 L1978.4,654.7 L1980.8,657.9 L1983.3,661.0 L1985.7,664.2 L1988.1,667.4 L1990.5,670.6 L1993.0,673.8 L1995.4,677.0 L1997.8,680.2 L2000.3,683.4 L2002.7,686.6 L2005.2,689.7 L2007.6,692.9 L2010.0,696.1 L2012.4,699.3 L2014.9,702.5 L2017.2,705.8 L2019.6,709.0 L2021.9,712.2 L2024.3,715.5 L2026.6,718.8 L2028.8,722.1 L2031.1,725.5 L2033.3,728.8 L2035.4,732.2 L2037.5,735.6 L2039.6,739.0 L2041.7,742.4 L2043.8,745.9 L2045.8,749.3 L2047.9,752.8 L2049.9,756.2 L2052.0,759.6 L2054.1,763.1 L2056.2,766.5 L2058.4,769.8 L2060.6,773.2 L2062.9,776.5 L2065.2,779.7 L2067.6,782.9 L2068.8,784.5" stroke="#ffb066" stroke-width="2" stroke-dasharray="15,6,3,6" fill="none"/><path d="M1025.6,430.1 L1029.1,428.1 L1032.6,426.0 L1036.0,424.0 L1039.5,422.0 L1042.9,419.9 L1046.4,417.8 L1049.9,415.8 L1053.3,413.7 L1056.8,411.7 L1060.3,409.6 L1063.7,407.6 L1067.3,405.7 L1070.8,403.7 L1074.3,401.8 L1077.9,400.0 L1081.5,398.2 L1085.2,396.5 L1088.9,394.9 L1092.6,393.4 L1096.3,391.9 L1100.1,390.4 L1103.8,389.1 L1107.6,387.8 L1111.5,386.5 L1115.3,385.3 L1119.2,384.1 L1123.0,383.0 L1126.9,381.9 L1130.8,380.8 L1134.7,379.8 L1138.5,378.8 L1142.4,377.7 L1146.3,376.7 L1150.2,375.7 L1154.1,374.7 L1158.0,373.7 L1161.9,372.8 L1165.8,371.8 L1169.8,370.9 L1173.7,370.0 L1177.6,369.1 L1181.5,368.2 L1185.5,367.5 L1189.4,366.7 L1193.4,366.0 L1197.4,365.3 L1201.3,364.7 L1205.3,364.1 L1209.3,363.6 L1213.3,363.1 L1217.3,362.6 L1221.3,362.2 L1225.3,361.8 L1229.3,361.5 L1233.3,361.1 L1237.4,360.9 L1241.4,360.6 L1245.4,360.4 L1249.4,360.1 L1253.4,360.0 L1257.4,359.8 L1261.5,359.7 L1265.5,359.6 L1269.5,359.5 L1273.5,359.4 L1277.6,359.4 L1281.6,359.4 L1285.6,359.5 L1289.6,359.5 L1293.7,359.6 L1297.7,359.6 L1301.7,359.7 L1305.7,359.9 L1309.8,360.0 L1313.8,360.1 L1317.8,360.3 L1321.8,360.4 L1325.9,360.6 L1329.9,360.8 L1333.9,361.1 L1337.9,361.3 L1341.9,361.6 L1345.9,361.8 L1350.0,362.1 L1354.0,362.5 L1358.0,362.8 L1362.0,363.1 L1366.0,363.4 L1370.0,363.8 L1374.0,364.1 L1378.0,364.5 L1382.0,364.8 L1386.1,365.2 L1390.1,365.5 L1394.1,365.9 L1398.1,366.3 L1402.1,366.7 L1406.1,367.1 L1410.1,367.5 L1414.1,367.9 L1418.1,368.3 L1422.1,368.8 L1426.1,369.2 L1430.1,369.7 L1434.1,370.2 L1438.1,370.7 L1442.1,371.2 L1446.1,371.7 L1450.1,372.3 L1454.0,372.9 L1458.0,373.4 L1462.0,374.0 L1466.0,374.6 L1470.0,375.2 L1473.9,375.9 L1477.9,376.5 L1481.9,377.1 L1485.9,377.8 L1489.8,378.4 L1493.8,379.1 L1497.8,379.8 L1501.7,380.4 L1505.7,381.1 L1509.7,381.8 L1513.6,382.5 L1517.6,383.2 L1521.6,383.9 L1525.5,384.6 L1529.5,385.4 L1533.4,386.1 L1537.4,386.8 L1541.4,387.6 L1545.3,388.3 L1549.3,389.1 L1553.2,389.9 L1557.2,390.7 L1561.1,391.5 L1565.0,392.3 L1569.0,393.1 L1572.9,393.9 L1576.9,394.7 L1580.8,395.6 L1584.8,396.4 L1588.7,397.2 L1592.6,398.0 L1596.6,398.8 L1600.5,399.6 L1604.5,400.4 L1608.4,401.2 L1612.4,402.0 L1616.3,402.8 L1620.3,403.6 L1624.2,404.3 L1628.2,405.1 L1632.1,405.9 L1636.1,406.7 L1640.0,407.5" stroke="#9cc2e8" stroke-width="2" stroke-dasharray="15,6,3,6" fill="none"/><path d="M1036.3,442.6 L1039.8,440.6 L1043.2,438.6 L1046.7,436.6 L1050.2,434.5 L1053.6,432.5 L1057.1,430.4 L1060.5,428.4 L1063.9,426.3 L1067.4,424.2 L1070.8,422.2 L1074.3,420.2 L1077.8,418.2 L1081.3,416.2 L1084.8,414.3 L1088.3,412.4 L1091.9,410.6 L1095.5,408.9 L1099.1,407.2 L1102.8,405.6 L1106.5,404.0 L1110.2,402.6 L1114.0,401.2 L1117.8,399.9 L1121.6,398.6 L1125.4,397.5 L1129.3,396.4 L1133.1,395.3 L1137.0,394.3 L1140.9,393.3 L1144.8,392.4 L1148.7,391.6 L1152.7,390.7 L1156.6,389.9 L1160.5,389.1 L1164.5,388.3 L1168.4,387.5 L1172.3,386.8 L1176.3,386.0 L1180.2,385.3 L1184.2,384.6 L1188.1,383.9 L1192.1,383.2 L1196.0,382.5 L1200.0,381.8 L1203.9,381.2 L1207.9,380.6 L1211.9,380.0 L1215.8,379.5 L1219.8,378.9 L1223.8,378.4 L1227.8,377.9 L1231.7,377.5 L1235.7,377.0 L1239.7,376.6 L1243.7,376.2 L1247.7,375.8 L1251.7,375.5 L1255.7,375.2 L1259.7,374.9 L1263.7,374.7 L1267.7,374.5 L1271.7,374.3 L1275.7,374.2 L1279.7,374.1 L1283.7,374.0 L1287.8,373.9 L1291.8,373.8 L1295.8,373.8 L1299.8,373.8 L1303.8,373.7 L1307.8,373.7 L1311.8,373.7 L1315.8,373.7 L1319.8,373.7 L1323.9,373.7 L1327.9,373.8 L1331.9,373.9 L1335.9,374.0 L1339.9,374.1 L1343.9,374.2 L1347.9,374.4 L1351.9,374.5 L1355.9,374.7 L1359.9,374.9 L1363.9,375.1 L1367.9,375.3 L1371.9,375.5 L1375.9,375.8 L1380.0,376.0 L1384.0,376.3 L1388.0,376.5 L1392.0,376.8 L1396.0,377.1 L1400.0,377.4 L1404.0,377.7 L1408.0,378.0 L1412.0,378.3 L1416.0,378.6 L1420.0,378.9 L1424.0,379.2 L1428.0,379.6 L1431.9,379.9 L1435.9,380.3 L1439.9,380.7 L1443.9,381.1 L1447.9,381.4 L1451.9,381.8 L1455.9,382.2 L1459.9,382.6 L1463.9,383.0 L1467.9,383.5 L1471.9,383.9 L1475.8,384.3 L1479.8,384.8 L1483.8,385.2 L1487.8,385.7 L1491.8,386.2 L1495.8,386.7 L1499.7,387.2 L1503.7,387.7 L1507.7,388.3 L1511.7,388.8 L1515.6,389.4 L1519.6,390.0 L1523.6,390.6 L1527.5,391.3 L1531.5,392.0 L1535.4,392.7 L1539.4,393.4 L1543.3,394.1 L1547.2,394.9 L1551.2,395.7 L1555.1,396.6 L1559.0,397.4 L1562.9,398.3 L1566.8,399.1 L1570.8,400.0 L1574.7,400.9 L1578.6,401.8 L1582.5,402.7 L1586.4,403.5 L1590.3,404.4 L1594.2,405.2 L1598.2,406.1 L1602.1,406.9 L1606.0,407.8 L1609.9,408.6 L1613.9,409.4 L1617.8,410.2 L1621.7,411.1 L1625.6,411.9 L1629.6,412.7 L1633.5,413.5 L1637.4,414.3 L1641.4,415.0 L1645.3,415.8 L1649.3,416.5 L1653.2,417.1 L1657.2,417.8 L1661.1,418.4 L1665.1,419.0 L1669.1,419.5 L1673.1,420.0 L1677.0,420.5 L1681.0,421.0 L1685.0,421.4 L1689.0,421.8 L1693.0,422.2 L1697.0,422.6 L1701.0,423.0 L1705.0,423.4 L1709.0,423.7 L1713.0,424.0 L1717.0,424.3 L1721.0,424.6 L1725.0,424.9 L1729.0,425.2 L1733.0,425.4 L1737.0,425.7 L1741.0,425.9 L1745.0,426.2 L1749.0,426.6 L1753.0,426.9 L1756.9,427.4 L1760.9,427.8 L1764.9,428.3 L1768.9,428.9 L1772.9,429.4 L1776.8,430.0 L1780.8,430.5 L1784.8,431.1 L1788.7,431.7 L1792.7,432.2 L1794.7,432.5" stroke="#ffc287" stroke-width="2" stroke-dasharray="15,6,3,6" fill="none"/><path d="M2000.0,578.3 C2007.7,589.2 2016.2,601.1 2023.2,611.0 C2029.1,619.3 2033.8,626.3 2039.3,633.8 C2044.9,641.5 2051.1,649.1 2056.7,656.6 C2062.1,663.8 2067.0,670.9 2072.2,678.1" stroke="#9cc2e8" stroke-width="2" stroke-dasharray="15,6,3,6" fill="none"/><path d="M1930.0,497.4 C1942.6,507.7 1956.7,517.2 1967.8,528.3 C1978.2,538.6 1986.7,551.0 1995.0,561.3 C2002.3,570.3 2008.7,578.5 2015.1,586.8 C2021.2,594.6 2026.7,602.1 2032.6,609.6 C2038.4,616.9 2044.2,623.9 2050.0,631.1 C2055.8,638.3 2063.4,648.4 2067.5,652.6 C2069.4,654.6 2070.6,655.3 2072.2,656.6" stroke="#ffc287" stroke-width="2" stroke-dasharray="15,6,3,6" fill="none"/><path d="M634.8,1118 L634.8,807 L636.4,805" stroke="#3b7dc4" stroke-width="3" fill="none"/><path d="M635.7,805.0 C637.6,804.2 638.6,804.5 641.4,802.7 C654.2,794.2 697.0,746.1 735.0,708.8 C792.7,652.2 897.4,553.8 955.4,497.5 C993.6,460.4 1018.0,435.9 1050.0,404.5 C1082.9,372.3 1116.3,340.0 1150.0,306.7 C1184.8,272.3 1238.3,216.8 1255.5,201.1 C1260.8,196.3 1261.8,194.4 1266.3,192.2 C1272.0,189.5 1280.6,189.2 1287.7,187.7" stroke="#3b7dc4" stroke-width="3" fill="none"/><path d="M1255.5,201.1 C1260.8,196.3 1261.8,194.4 1266.3,192.2 C1272.0,189.5 1281.0,188.0 1287.7,187.7 C1293.4,187.4 1298.5,188.3 1303.8,189.5 C1309.3,190.7 1314.5,192.8 1320.0,194.9 C1325.9,197.2 1332.5,200.2 1337.8,202.9 C1342.3,205.1 1345.0,206.5 1350.0,209.6 C1358.7,214.9 1373.4,224.9 1385.0,233.0 C1396.7,241.1 1408.3,249.8 1420.0,258.2 C1431.7,266.5 1443.3,274.8 1455.0,283.1 C1466.7,291.3 1478.3,299.5 1490.0,307.6 C1501.6,315.7 1513.3,323.7 1525.0,331.6 C1536.6,339.4 1548.3,347.2 1560.0,354.8 C1571.6,362.5 1583.3,370.0 1595.0,377.3 C1606.6,384.7 1618.3,391.9 1630.0,399.0 C1641.6,406.0 1653.3,412.9 1665.0,419.7 C1676.6,426.5 1688.3,433.1 1700.0,439.5 C1711.6,445.9 1723.3,452.2 1735.0,458.4 C1746.6,464.5 1758.3,470.5 1770.0,476.3 C1781.6,482.1 1793.3,487.8 1805.0,493.4 C1816.6,498.9 1828.3,504.3 1840.0,509.6 C1851.6,514.9 1863.3,520.1 1875.0,525.1 C1886.6,530.2 1898.3,535.2 1910.0,540.1 C1921.7,545.0 1933.3,549.7 1945.0,554.5 C1956.7,559.3 1968.3,564.0 1980.0,568.7 C1991.7,573.3 2003.3,578.0 2015.0,582.7 C2026.7,587.4 2039.7,592.6 2050.0,596.8 C2058.2,600.1 2064.8,602.8 2072.2,605.9" stroke="#b92b3b" stroke-width="3" fill="none"/><path d="M1255.5,201.1 C1260.8,196.3 1261.8,194.4 1266.3,192.2 C1272.0,189.5 1281.0,188.0 1287.7,187.7 C1293.4,187.4 1298.5,188.3 1303.8,189.5 C1309.3,190.7 1314.5,192.8 1320.0,194.9 C1325.9,197.2 1332.5,200.2 1337.8,202.9 C1342.3,205.1 1345.0,206.5 1350.0,209.6 C1358.7,214.9 1373.4,224.9 1385.0,233.0 C1396.7,241.1 1408.3,249.8 1420.0,258.2 C1431.7,266.5 1443.3,274.8 1455.0,283.1 C1466.7,291.3 1478.3,299.5 1490.0,307.6 C1501.6,315.7 1513.3,323.7 1525.0,331.6 C1536.6,339.4 1548.3,347.2 1560.0,354.8 C1571.6,362.5 1583.3,370.0 1595.0,377.3 C1606.6,384.7 1618.3,391.9 1630.0,399.0 C1641.6,406.0 1653.3,412.9 1665.0,419.7 C1676.6,426.5 1688.3,433.1 1700.0,439.5 C1711.6,445.9 1723.3,452.2 1735.0,458.4 C1746.6,464.5 1758.3,470.5 1770.0,476.3 C1781.6,482.1 1793.3,487.8 1805.0,493.4 C1816.6,498.9 1828.3,504.3 1840.0,509.6 C1851.6,514.9 1863.3,520.1 1875.0,525.1 C1886.6,530.2 1898.3,535.2 1910.0,540.1 C1921.7,545.0 1933.3,549.7 1945.0,554.5 C1956.7,559.3 1968.3,564.0 1980.0,568.7 C1991.7,573.3 2003.3,578.0 2015.0,582.7 C2026.7,587.4 2039.7,592.6 2050.0,596.8 C2058.2,600.1 2064.8,602.8 2072.2,605.9" stroke="#3b7dc4" stroke-width="3" stroke-dasharray="9,9" fill="none"/><path d="M641.1,1118 L641.1,805" stroke="#ff8a22" stroke-width="3" fill="none"/><path d="M641.8,804.0 C642.9,803.2 643.4,803.0 645.2,801.5 C655.0,793.4 703.6,747.0 735.0,718.2 C769.3,686.7 813.9,647.1 843.3,620.0 C863.8,601.2 875.7,589.3 895.0,571.8 C918.8,550.1 949.7,523.9 975.9,500.0 C1001.3,476.9 1023.5,455.7 1050.0,430.9 C1080.9,402.0 1112.9,371.9 1150.0,337.1 C1196.5,293.5 1293.7,204.3 1307.4,189.5 C1309.6,187.1 1309.3,186.5 1311.0,185.0 C1313.5,182.7 1318.1,180.3 1321.7,177.9" stroke="#ff8a22" stroke-width="3" fill="none"/><path d="M1307.4,189.5 C1309.6,187.1 1309.3,186.5 1311.0,185.0 C1313.5,182.7 1317.6,179.8 1321.7,177.9 C1326.4,175.8 1332.8,174.3 1337.8,173.4 C1342.1,172.6 1345.3,172.3 1350.0,172.5 C1356.3,172.8 1364.4,174.1 1372.1,176.2 C1381.0,178.6 1390.8,182.2 1400.0,186.9 C1410.1,192.0 1420.0,199.6 1430.0,206.1 C1440.0,212.6 1450.0,219.1 1460.0,225.7 C1470.0,232.3 1480.0,238.9 1490.0,245.5 C1500.0,252.1 1510.0,258.8 1520.0,265.4 C1530.0,272.1 1540.0,278.7 1550.0,285.3 C1560.0,291.9 1570.0,298.5 1580.0,305.0 C1590.0,311.5 1600.0,317.9 1610.0,324.3 C1620.0,330.7 1630.0,337.0 1640.0,343.3 C1650.0,349.5 1660.0,355.7 1670.0,361.8 C1680.0,367.8 1690.0,373.8 1700.0,379.7 C1710.0,385.6 1720.0,391.3 1730.0,397.0 C1740.0,402.7 1750.0,408.3 1760.0,413.7 C1770.0,419.2 1780.0,424.6 1790.0,429.8 C1800.0,435.1 1810.0,440.2 1820.0,445.3 C1830.0,450.3 1840.0,455.2 1850.0,460.1 C1860.0,464.9 1870.0,469.7 1880.0,474.3 C1890.0,479.0 1900.0,483.6 1910.0,488.1 C1920.0,492.6 1930.0,497.0 1940.0,501.3 C1950.0,505.7 1960.0,510.0 1970.0,514.2 C1980.0,518.5 1990.0,522.7 2000.0,526.9 C2010.0,531.1 2020.0,535.2 2030.0,539.4 C2040.0,543.6 2052.3,548.7 2060.0,551.9 C2064.8,553.9 2067.7,555.1 2071.6,556.8" stroke="#ff3d17" stroke-width="3" fill="none"/><path d="M1307.4,189.5 C1309.6,187.1 1309.3,186.5 1311.0,185.0 C1313.5,182.7 1317.6,179.8 1321.7,177.9 C1326.4,175.8 1332.8,174.3 1337.8,173.4 C1342.1,172.6 1345.3,172.3 1350.0,172.5 C1356.3,172.8 1364.4,174.1 1372.1,176.2 C1381.0,178.6 1390.8,182.2 1400.0,186.9 C1410.1,192.0 1420.0,199.6 1430.0,206.1 C1440.0,212.6 1450.0,219.1 1460.0,225.7 C1470.0,232.3 1480.0,238.9 1490.0,245.5 C1500.0,252.1 1510.0,258.8 1520.0,265.4 C1530.0,272.1 1540.0,278.7 1550.0,285.3 C1560.0,291.9 1570.0,298.5 1580.0,305.0 C1590.0,311.5 1600.0,317.9 1610.0,324.3 C1620.0,330.7 1630.0,337.0 1640.0,343.3 C1650.0,349.5 1660.0,355.7 1670.0,361.8 C1680.0,367.8 1690.0,373.8 1700.0,379.7 C1710.0,385.6 1720.0,391.3 1730.0,397.0 C1740.0,402.7 1750.0,408.3 1760.0,413.7 C1770.0,419.2 1780.0,424.6 1790.0,429.8 C1800.0,435.1 1810.0,440.2 1820.0,445.3 C1830.0,450.3 1840.0,455.2 1850.0,460.1 C1860.0,464.9 1870.0,469.7 1880.0,474.3 C1890.0,479.0 1900.0,483.6 1910.0,488.1 C1920.0,492.6 1930.0,497.0 1940.0,501.3 C1950.0,505.7 1960.0,510.0 1970.0,514.2 C1980.0,518.5 1990.0,522.7 2000.0,526.9 C2010.0,531.1 2020.0,535.2 2030.0,539.4 C2040.0,543.6 2052.3,548.7 2060.0,551.9 C2064.8,553.9 2067.7,555.1 2071.6,556.8" stroke="#ff8a22" stroke-width="3" stroke-dasharray="9,9" fill="none"/><circle cx="636.3" cy="807.9" r="10.3" stroke="#3b7dc4" stroke-width="2" fill="none"/><circle cx="642.2" cy="803.9" r="10.3" stroke="#ff8a22" stroke-width="2" fill="none"/></g>
<path d="M605.7,777.9 L630.4,803" stroke="#474747" stroke-width="1.6" stroke-linecap="round"/><path d="M610.8,773.6 L633.6,796.7" stroke="#474747" stroke-width="1.6" stroke-linecap="round"/><path d="M629.4,808 L633.5,800.5 L636.5,803.2 Z M637.7,794.5 L640.2,796.5 L641.8,802 L635.2,799.8 Z" fill="#474747"/>
<g font-family="Liberation Sans, sans-serif" font-size="14.3"><text x="563.1" y="773.3" fill="#3b7dc4">R = 229 m</text><text x="568.2" y="769" fill="#ff8a22">R = 231 m</text></g>
<g font-family="Liberation Sans, sans-serif" font-size="13" letter-spacing="0.5"><text x="1274.4" y="352.2" fill="#6ea6dc" transform="rotate(2.5 1314.4 347.5)">SEP -1200 ft/s</text><text x="1274.4" y="363.9" fill="#ffa859" transform="rotate(2.5 1314.4 359.2)">SEP -1200 ft/s</text><text x="1278.8" y="457.5" fill="#6ea6dc" transform="rotate(3 1318.8 452.8)">SEP -600 ft/s</text><text x="1278.8" y="464.1" fill="#ffa859" transform="rotate(3 1318.8 459.4)">SEP -600 ft/s</text><text x="1277.9" y="531.9" fill="#5f98d2" transform="rotate(4 1317.9 527.2)">SEP -300 ft/s</text><text x="1277.9" y="531.9" fill="#ff9a44" transform="rotate(4 1317.9 527.2)">SEP -300 ft/s</text><text x="1289.7" y="624.3" fill="#4d8bcc" transform="rotate(0 1329.7 619.6)">SEP 0 ft/s</text><text x="1289.7" y="617.8" fill="#ff9533" transform="rotate(0 1329.7 613.1)">SEP 0 ft/s</text><text x="1281.1" y="739.2" fill="#3b7dc4" transform="rotate(-5.5 1321.1 734.5)">SEP 300 ft/s</text><text x="1281.1" y="728.4" fill="#ff8a22" transform="rotate(-5 1321.1 723.7)">SEP 300 ft/s</text></g>
<g font-family="Liberation Sans, sans-serif" font-size="13"><path d="M886,497.2 L892.5,490.7 V486.3 H932.6 V508 H892.5 V503.7 Z" fill="#747474"/><rect x="932.6" y="486.3" width="23.2" height="21.7" fill="#d8d8d8"/><text x="895.5" y="502" fill="#ffffff">25.26</text><text x="935.5" y="502" fill="#8a8a8a">5G</text></g>
<text x="1513.5" y="96" text-anchor="middle" font-family="Liberation Sans, sans-serif" font-size="17.5" letter-spacing="1" fill="#f4f4f4">Turn Performance</text>
</svg>
<svg width="2532" height="1118" style="position:absolute;left:0;top:0">
<path d="M2180.4,135.4H2210.5" stroke="#3b7dc4" stroke-width="3"/><circle cx="2195.4" cy="164.4" r="8" stroke="#3b7dc4" stroke-width="2" fill="none"/><path d="M2180.4,193.4H2210.3" stroke="#3b7dc4" stroke-width="2" stroke-dasharray="15,6,3,6"/><path d="M2180.4,222.4H2210.3" stroke="#4d8bcc" stroke-width="2" stroke-dasharray="15,6,3,6"/><path d="M2180.4,251.4H2210.3" stroke="#6199d4" stroke-width="2" stroke-dasharray="15,6,3,6"/><path d="M2180.4,280.4H2210.3" stroke="#7aaadb" stroke-width="2" stroke-dasharray="15,6,3,6"/><path d="M2180.4,309.4H2210.3" stroke="#9cc2e8" stroke-width="2" stroke-dasharray="15,6,3,6"/><path d="M2180.4,338.4H2210.5" stroke="#ff8a22" stroke-width="3"/><circle cx="2195.4" cy="367.4" r="8" stroke="#ff8a22" stroke-width="2" fill="none"/><path d="M2180.4,396.4H2210.3" stroke="#ff8a22" stroke-width="2" stroke-dasharray="15,6,3,6"/><path d="M2180.4,425.4H2210.3" stroke="#ff9533" stroke-width="2" stroke-dasharray="15,6,3,6"/><path d="M2180.4,454.4H2210.3" stroke="#ffa24c" stroke-width="2" stroke-dasharray="15,6,3,6"/><path d="M2180.4,483.4H2210.3" stroke="#ffb066" stroke-width="2" stroke-dasharray="15,6,3,6"/><path d="M2180.4,512.4H2210.3" stroke="#ffc287" stroke-width="2" stroke-dasharray="15,6,3,6"/><path d="M2180.4,541.4H2210.5" stroke="#c22b3d" stroke-width="3"/><path d="M2180.4,570.4H2210.5" stroke="#ff8a22" stroke-width="2" stroke-dasharray="3,3"/>
<g font-family="Liberation Sans, sans-serif" font-size="13" letter-spacing="0.5" fill="#f2f2f2"><text x="2215.8" y="140.0">fa_18c_early - CLmax</text><text x="2215.8" y="169.0">fa_18c_early - Min Turn Radius</text><text x="2215.8" y="198.0">SEP 300 ft/s - fa_18c_early</text><text x="2215.8" y="227.0">SEP 0 ft/s - fa_18c_early</text><text x="2215.8" y="256.0">SEP -300 ft/s - fa_18c_early</text><text x="2215.8" y="285.0">SEP -600 ft/s - fa_18c_early</text><text x="2215.8" y="314.0">SEP -1200 ft/s - fa_18c_early</text><text x="2215.8" y="343.0">fa_18c_late_switzerland - CLmax</text><text x="2215.8" y="372.0">fa_18c_late_switzerland - Min Turn Radius</text><text x="2215.8" y="401.0">SEP 300 ft/s - fa_18c_late_switzerland</text><text x="2215.8" y="430.0">SEP 0 ft/s - fa_18c_late_switzerland</text><text x="2215.8" y="459.0">SEP -300 ft/s - fa_18c_late_switzerland</text><text x="2215.8" y="488.0">SEP -600 ft/s - fa_18c_late_switzerland</text><text x="2215.8" y="517.0">SEP -1200 ft/s - fa_18c_late_switzerland</text><text x="2215.8" y="546.0">fa_18c_early, fa_18c_late_switzerland - VNE</text><text x="2215.8" y="575.0">Max sustainable rate on ace crew (7.5G)</text></g>
<rect x="2241.8" y="73.1" width="272.3" height="20.5" fill="#141517"/>
<path d="M2254,78.5 h4 l1.5,-1.8 h5 l1.5,1.8 h4 a1,1 0 0 1 1,1 v8 a1,1 0 0 1 -1,1 h-15 a1,1 0 0 1 -1,-1 v-8 a1,1 0 0 1 1,-1z" fill="#6b6b6b"/><circle cx="2262" cy="83.3" r="3" fill="#141517"/><circle cx="2262" cy="83.3" r="1.8" fill="#6b6b6b"/><circle cx="2292" cy="81.5" r="5.2" fill="none" stroke="#6b6b6b" stroke-width="2"/><rect x="2289.5" y="79" width="5" height="5" fill="#6b6b6b"/><path d="M2296,85.5 l4,4" stroke="#6b6b6b" stroke-width="2.4"/><path d="M2317.7,75.5 v15 M2310,83 h15.4" stroke="#c8c8c8" stroke-width="1.6"/><path d="M2317.7,74.5 l-2.6,3 h5.2z M2317.7,91.5 l-2.6,-3 h5.2z M2309,83 l3,-2.6 v5.2z M2326.4,83 l-3,-2.6 v5.2z" fill="#c8c8c8"/><g fill="#6b6b6b"><rect x="2334.0" y="75.0" width="1.8" height="1.8"/><rect x="2334.0" y="78.3" width="1.8" height="1.8"/><rect x="2334.0" y="81.6" width="1.8" height="1.8"/><rect x="2334.0" y="84.9" width="1.8" height="1.8"/><rect x="2334.0" y="88.2" width="1.8" height="1.8"/><rect x="2337.3" y="75.0" width="1.8" height="1.8"/><rect x="2337.3" y="88.2" width="1.8" height="1.8"/><rect x="2340.6" y="75.0" width="1.8" height="1.8"/><rect x="2340.6" y="88.2" width="1.8" height="1.8"/><rect x="2343.9" y="75.0" width="1.8" height="1.8"/><rect x="2343.9" y="88.2" width="1.8" height="1.8"/><rect x="2347.2" y="75.0" width="1.8" height="1.8"/><rect x="2347.2" y="78.3" width="1.8" height="1.8"/><rect x="2347.2" y="81.6" width="1.8" height="1.8"/><rect x="2347.2" y="84.9" width="1.8" height="1.8"/><rect x="2347.2" y="88.2" width="1.8" height="1.8"/></g><ellipse cx="2366.5" cy="81" rx="7.5" ry="5" fill="none" stroke="#6b6b6b" stroke-width="1.3"/><path d="M2361,84.5 q2,3 -0.5,5.5" stroke="#6b6b6b" stroke-width="1.3" fill="none"/><rect x="2391" y="76" width="14" height="14" fill="#6b6b6b"/><path d="M2398,79v8M2394,83h8" stroke="#141517" stroke-width="2"/><rect x="2415" y="76" width="14" height="14" fill="#6b6b6b"/><path d="M2418,83h8" stroke="#141517" stroke-width="2"/><path d="M2438.5,79v-3.5h3.5 M2449.5,75.5h3.5v3.5 M2453,87v3.5h-3.5 M2442,90.5h-3.5v-3.5 M2442,79l8,8 M2450,79l-8,8" stroke="#6b6b6b" stroke-width="1.3" fill="none"/><path d="M2441,78h3.5l-3.5,3.5z M2451,78h-3.5l3.5,3.5z M2441,88h3.5l-3.5,-3.5z M2451,88h-3.5l3.5,-3.5z" fill="#6b6b6b"/><path d="M2462.5,84 L2470,77 L2477.5,84 H2475.5 V89.5 H2472 V85.5 H2468 V89.5 H2464.5 V84Z M2474.5,78.5 h2 v3 l-2,-1.8z" fill="#6b6b6b"/><rect x="2494" y="75" width="16" height="15.5" rx="2" fill="#000"/><path d="M2497.5,83v5.5M2500.5,81v7.5M2503.5,83v5.5M2506.5,81v7.5" stroke="#fff" stroke-width="1.6"/><circle cx="2497.5" cy="78.5" r="0.9" fill="#e0305d"/><circle cx="2500.5" cy="78.5" r="0.9" fill="#e0305d"/><circle cx="2503.5" cy="78.5" r="0.9" fill="#b66dd6"/><circle cx="2506.5" cy="78.5" r="0.9" fill="#45c4e0"/><circle cx="2497.5" cy="81" r="0.9" fill="#e0305d"/><circle cx="2503.5" cy="81" r="0.9" fill="#b66dd6"/>
<rect x="1480" y="42.2" width="20.3" height="9.8" fill="none" stroke="#f4f4f4" stroke-width="2"/><path d="M1483.5,42.2v5 M1487.3,42.2v3.5 M1491,42.2v5 M1494.8,42.2v3.5" stroke="#f4f4f4" stroke-width="1.6"/>
<path d="M1543.7,40 L1531.9,47.1 L1543.7,54.2" stroke="#f4f4f4" stroke-width="2" fill="none"/><circle cx="1543.7" cy="40" r="3.5" fill="#f4f4f4"/><circle cx="1531.9" cy="47.1" r="3.5" fill="#f4f4f4"/><circle cx="1543.7" cy="54.2" r="3.5" fill="#f4f4f4"/>
</svg>
</body></html>
